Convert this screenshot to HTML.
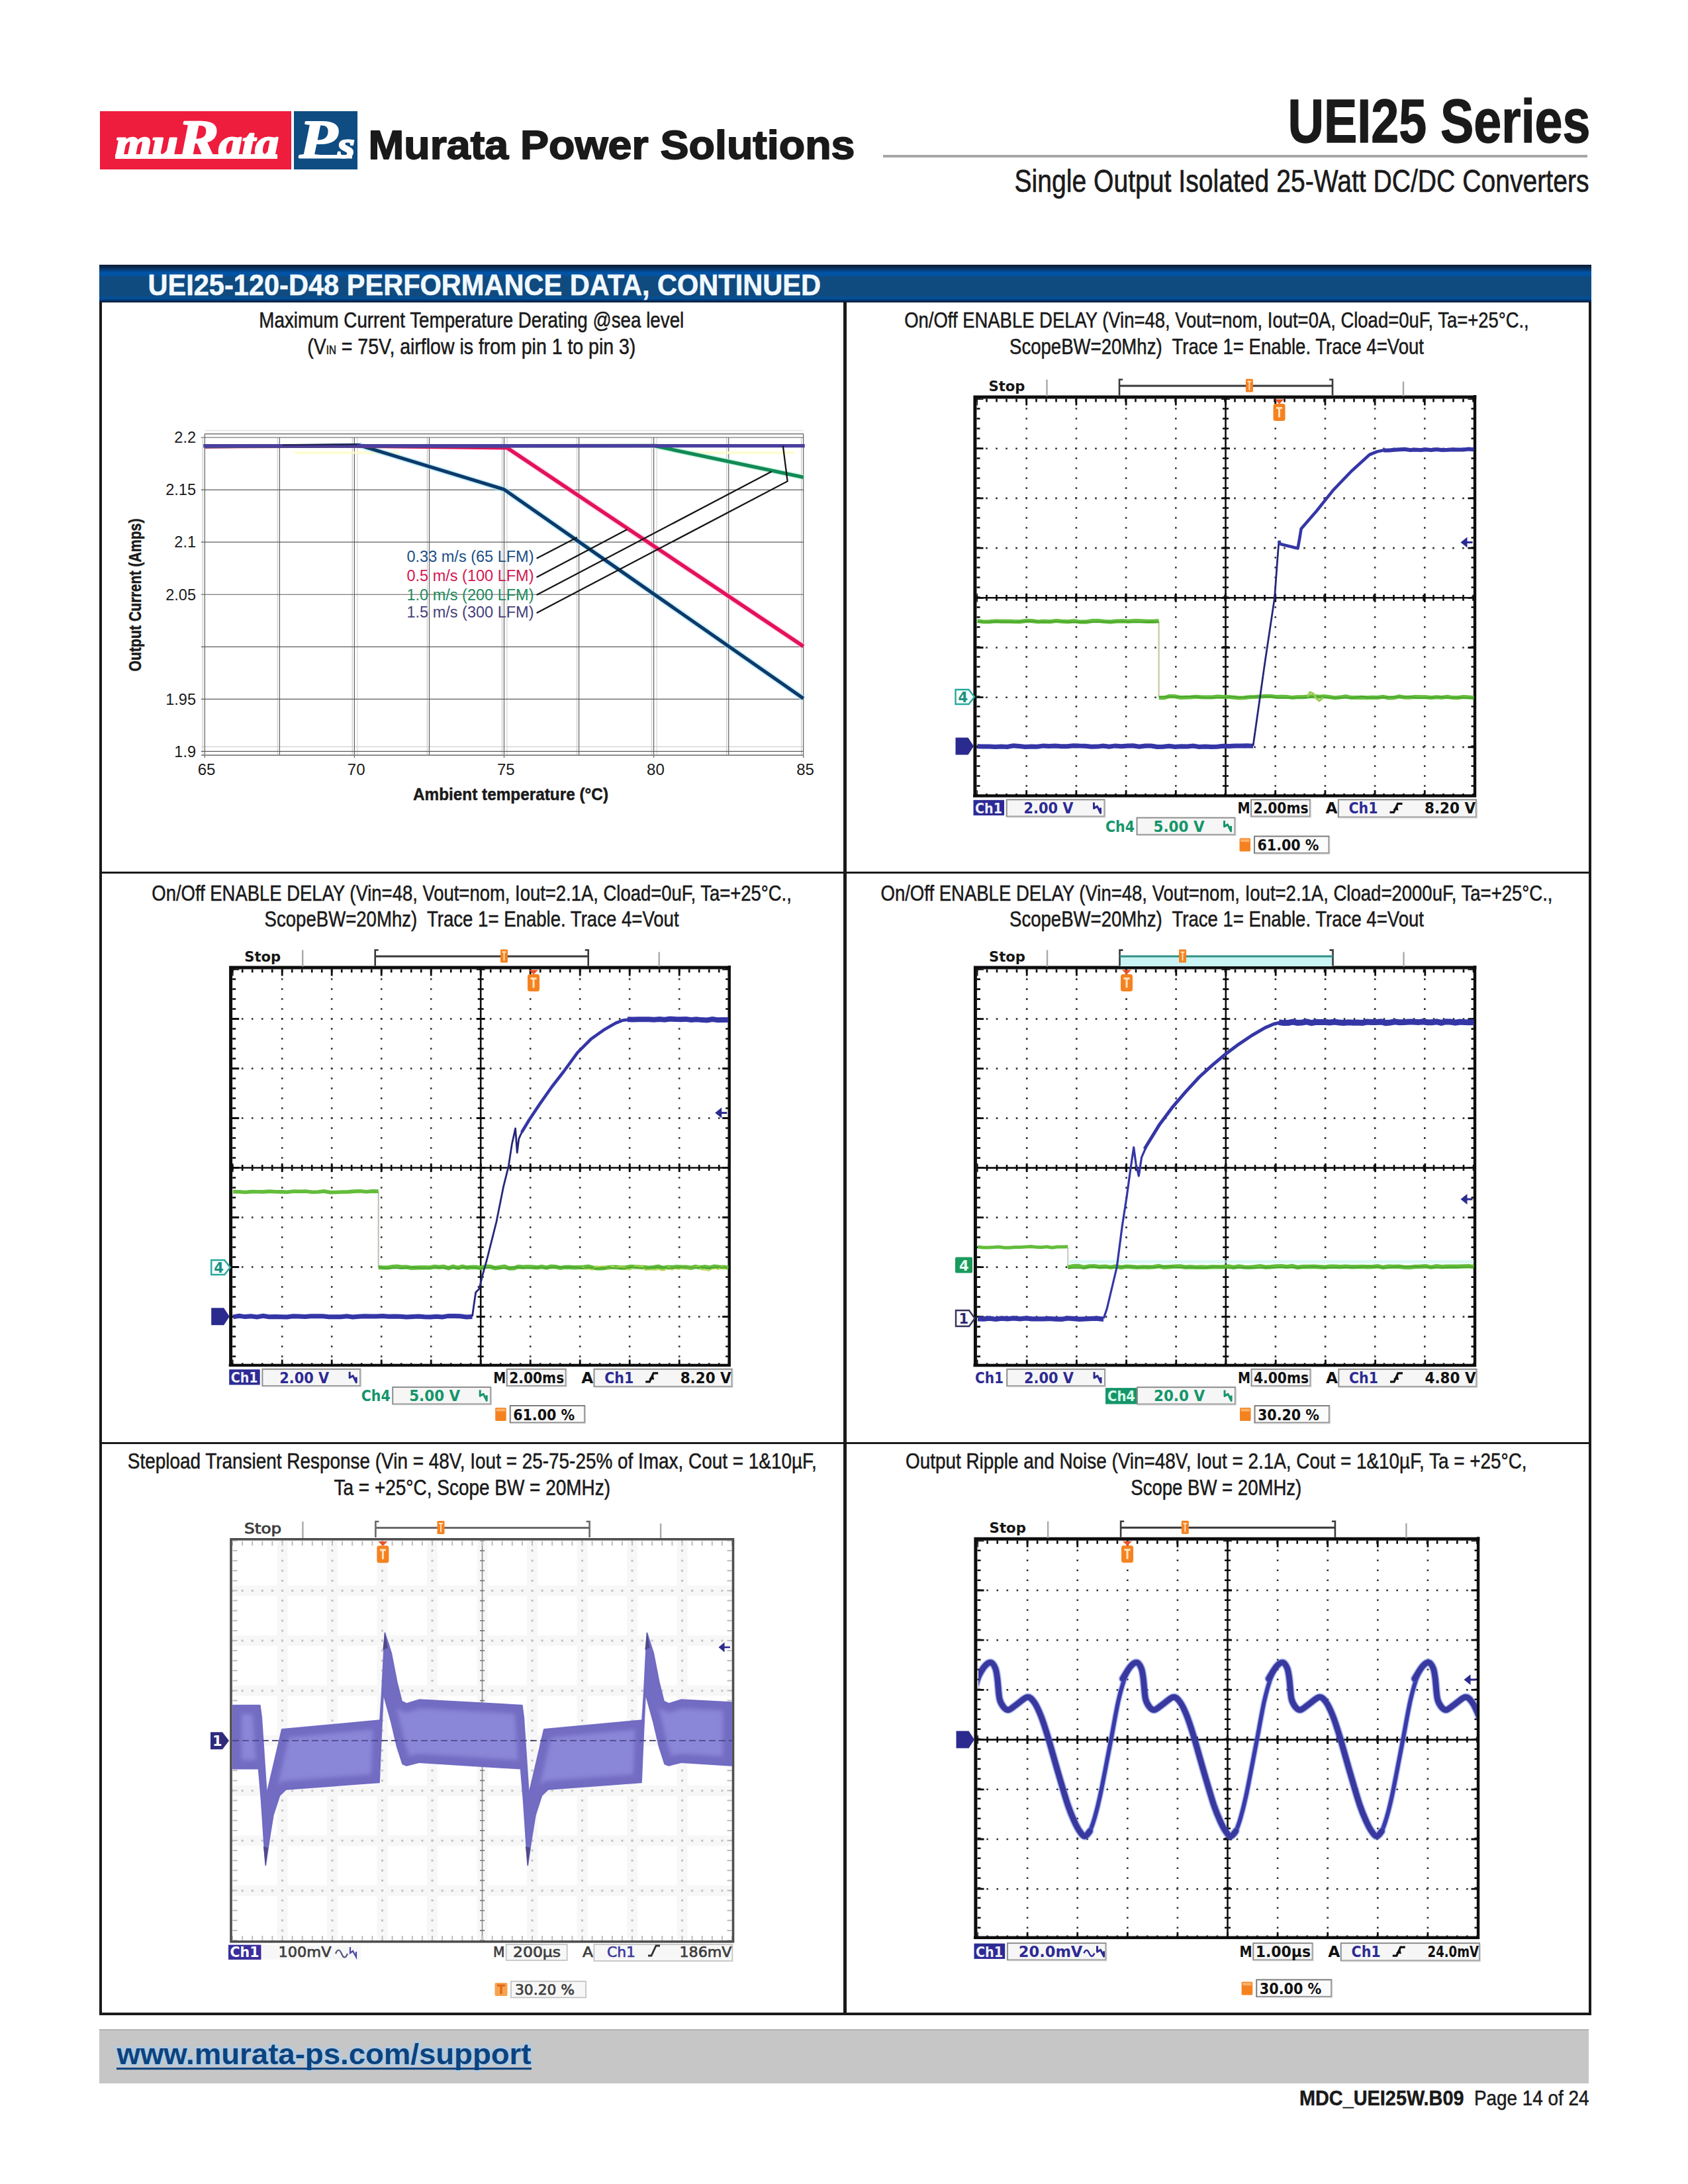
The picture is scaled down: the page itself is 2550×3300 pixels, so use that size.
<!DOCTYPE html>
<html lang="en"><head><meta charset="utf-8">
<title>UEI25 Series - Single Output Isolated 25-Watt DC/DC Converters</title>
<style>
html,body{margin:0;padding:0;background:#fff}
body{width:2550px;height:3300px;position:relative;overflow:hidden;font-family:"Liberation Sans",sans-serif;color:#1a1a1a}
svg{position:absolute;left:0;top:0;overflow:visible}
svg text{white-space:pre}
header{position:absolute;left:0;top:0;width:2550px;height:380px}
.logo-red{position:absolute;left:151px;top:168px;width:289px;height:88px;background:#ee1c3d}
.logo-blue{position:absolute;left:444px;top:168px;width:96px;height:88px;background:#0f4c81}
.rule{position:absolute;left:1334px;top:234px;width:1064px;height:4px;background:#a6a6a6}
.sheet{position:absolute;left:150px;top:400px;width:2254px;height:2645px;box-sizing:border-box;border:4px solid #1a1a1a;border-top:none;background:#fff}
.banner{position:absolute;left:0;top:0;width:2254px;height:57px;margin-left:-4px;background:linear-gradient(to bottom,#0b1c33 0px,#0a2d58 5px,#0054a6 12px,#0054a6 15px,#104b80 19px,#104b80 47px,#00519f 51px,#062c57 55px,#07182d 57px)}
.cell{position:absolute;margin:0;padding:0}
.vline{position:absolute;left:1124px;top:57px;width:5px;height:2585px;margin-left:-4px;background:#1a1a1a}
.hline{position:absolute;left:-4px;width:2254px;height:3px;background:#1a1a1a}
footer{position:absolute;left:0;top:3040px;width:2550px;height:260px}
.fbar{position:absolute;left:150px;top:26px;width:2250px;height:82px;background:#c6c6c6;border-top:2px solid #b4b4b4;box-sizing:border-box}
</style></head>
<body>
<header>
<div class="logo-red"></div><div class="logo-blue"></div><div class="rule"></div>
<svg width="2550" height="380" viewBox="0 0 2550 380">
<text x="174" y="238" font-family='"Liberation Serif", serif' font-weight="bold" font-style="italic" fill="#fff" stroke="#fff" stroke-width="2.6" stroke-linejoin="round" textLength="247" lengthAdjust="spacingAndGlyphs" font-size="63">mu<tspan font-size="82">R</tspan>ata</text>
<rect x="174" y="233" width="245" height="7" fill="#fff"/>
<text x="452" y="238" font-family='"Liberation Serif", serif' font-weight="bold" font-style="italic" fill="#fff" stroke="#fff" stroke-width="2.2" stroke-linejoin="round" textLength="84" lengthAdjust="spacingAndGlyphs" font-size="82">P<tspan font-size="58">s</tspan></text>
<rect x="452" y="234" width="80" height="5.5" fill="#fff"/>
<text x="556.5" y="239.6" font-family='"Liberation Sans", sans-serif' font-size="61.5" font-weight="bold" textLength="735" lengthAdjust="spacingAndGlyphs" stroke="#1a1a1a" stroke-width="1.8" stroke-linejoin="round" fill="#1a1a1a">Murata Power Solutions</text>
<text x="2402.5" y="215.4" font-family='"Liberation Sans", sans-serif' font-size="92" font-weight="bold" text-anchor="end" textLength="457" lengthAdjust="spacingAndGlyphs" stroke="#1a1a1a" stroke-width="1.4" stroke-linejoin="round" fill="#1a1a1a">UEI25 Series</text>
<text x="2400.5" y="289.7" font-family='"Liberation Sans", sans-serif' font-size="49" text-anchor="end" textLength="868" lengthAdjust="spacingAndGlyphs" stroke="#1a1a1a" stroke-width="0.7" stroke-linejoin="round" fill="#1a1a1a">Single Output Isolated 25-Watt DC/DC Converters</text>
</svg></header>
<main class="sheet">
<div class="banner"></div>
<div class="vline"></div>
<div class="hline" style="top:917px"></div>
<div class="hline" style="top:1779px"></div>
<svg width="2246" height="2640" viewBox="154 400 2246 2640">
<text x="223.5" y="445.8" font-family='"Liberation Sans", sans-serif' font-size="43.5" font-weight="bold" textLength="1016.5" lengthAdjust="spacingAndGlyphs" stroke="#f1f9ff" stroke-width="0.6" stroke-linejoin="round" fill="#f1f9ff">UEI25-120-D48 PERFORMANCE DATA, CONTINUED</text>
<g id="captions"><text x="712.3" y="494.5" font-family='"Liberation Sans", sans-serif' font-size="33" text-anchor="middle" textLength="642" lengthAdjust="spacingAndGlyphs" stroke="#1a1a1a" stroke-width="0.55" stroke-linejoin="round" fill="#1a1a1a">Maximum Current Temperature Derating @sea level</text>
<text x="712.3" y="534.5" font-family='"Liberation Sans", sans-serif' font-size="33" text-anchor="middle" textLength="496" lengthAdjust="spacingAndGlyphs" stroke="#1a1a1a" stroke-width="0.55" stroke-linejoin="round" fill="#1a1a1a">(V<tspan font-size="17.5">IN</tspan> = 75V, airflow is from pin 1 to pin 3)</text>
<text x="1838" y="494.5" font-family='"Liberation Sans", sans-serif' font-size="33" text-anchor="middle" textLength="943.5" lengthAdjust="spacingAndGlyphs" stroke="#1a1a1a" stroke-width="0.55" stroke-linejoin="round" fill="#1a1a1a">On/Off ENABLE DELAY (Vin=48, Vout=nom, Iout=0A, Cload=0uF, Ta=+25°C.,</text>
<text x="1838" y="534.5" font-family='"Liberation Sans", sans-serif' font-size="33" text-anchor="middle" textLength="626" lengthAdjust="spacingAndGlyphs" stroke="#1a1a1a" stroke-width="0.55" stroke-linejoin="round" fill="#1a1a1a">ScopeBW=20Mhz)  Trace 1= Enable. Trace 4=Vout</text>
<text x="712.6" y="1360.5" font-family='"Liberation Sans", sans-serif' font-size="33" text-anchor="middle" textLength="966.5" lengthAdjust="spacingAndGlyphs" stroke="#1a1a1a" stroke-width="0.55" stroke-linejoin="round" fill="#1a1a1a">On/Off ENABLE DELAY (Vin=48, Vout=nom, Iout=2.1A, Cload=0uF, Ta=+25°C.,</text>
<text x="712.6" y="1400" font-family='"Liberation Sans", sans-serif' font-size="33" text-anchor="middle" textLength="626" lengthAdjust="spacingAndGlyphs" stroke="#1a1a1a" stroke-width="0.55" stroke-linejoin="round" fill="#1a1a1a">ScopeBW=20Mhz)  Trace 1= Enable. Trace 4=Vout</text>
<text x="1838" y="1360.5" font-family='"Liberation Sans", sans-serif' font-size="33" text-anchor="middle" textLength="1015" lengthAdjust="spacingAndGlyphs" stroke="#1a1a1a" stroke-width="0.55" stroke-linejoin="round" fill="#1a1a1a">On/Off ENABLE DELAY (Vin=48, Vout=nom, Iout=2.1A, Cload=2000uF, Ta=+25°C.,</text>
<text x="1838" y="1400" font-family='"Liberation Sans", sans-serif' font-size="33" text-anchor="middle" textLength="626" lengthAdjust="spacingAndGlyphs" stroke="#1a1a1a" stroke-width="0.55" stroke-linejoin="round" fill="#1a1a1a">ScopeBW=20Mhz)  Trace 1= Enable. Trace 4=Vout</text>
<text x="713.3" y="2219.3" font-family='"Liberation Sans", sans-serif' font-size="33" text-anchor="middle" textLength="1041" lengthAdjust="spacingAndGlyphs" stroke="#1a1a1a" stroke-width="0.55" stroke-linejoin="round" fill="#1a1a1a">Stepload Transient Response (Vin = 48V, Iout = 25-75-25% of Imax, Cout = 1&amp;10µF,</text>
<text x="713.3" y="2259" font-family='"Liberation Sans", sans-serif' font-size="33" text-anchor="middle" textLength="417.5" lengthAdjust="spacingAndGlyphs" stroke="#1a1a1a" stroke-width="0.55" stroke-linejoin="round" fill="#1a1a1a">Ta = +25°C, Scope BW = 20MHz)</text>
<text x="1837.3" y="2219.3" font-family='"Liberation Sans", sans-serif' font-size="33" text-anchor="middle" textLength="938.5" lengthAdjust="spacingAndGlyphs" stroke="#1a1a1a" stroke-width="0.55" stroke-linejoin="round" fill="#1a1a1a">Output Ripple and Noise (Vin=48V, Iout = 2.1A, Cout = 1&amp;10µF, Ta = +25°C,</text>
<text x="1837.3" y="2259" font-family='"Liberation Sans", sans-serif' font-size="33" text-anchor="middle" textLength="258" lengthAdjust="spacingAndGlyphs" stroke="#1a1a1a" stroke-width="0.55" stroke-linejoin="round" fill="#1a1a1a">Scope BW = 20MHz)</text></g>
<g id="derating"><g fill="none"><path d="M306.3 661V1142" stroke="#d4d4d4" stroke-width="1.6"/><path d="M419.4 661V1142" stroke="#d4d4d4" stroke-width="1.6"/><path d="M532.4 661V1142" stroke="#d4d4d4" stroke-width="1.6"/><path d="M539.9 661V1142" stroke="#dcdcdc" stroke-width="1.4"/><path d="M645.5 661V1142" stroke="#d4d4d4" stroke-width="1.6"/><path d="M758.5 661V1142" stroke="#d4d4d4" stroke-width="1.6"/><path d="M766 661V1142" stroke="#dcdcdc" stroke-width="1.4"/><path d="M871.6 661V1142" stroke="#d4d4d4" stroke-width="1.6"/><path d="M984.6 661V1142" stroke="#d4d4d4" stroke-width="1.6"/><path d="M992.1 661V1142" stroke="#dcdcdc" stroke-width="1.4"/><path d="M1097.7 661V1142" stroke="#d4d4d4" stroke-width="1.6"/><path d="M1210.7 661V1142" stroke="#d4d4d4" stroke-width="1.6"/><path d="M304.3 1128.4H1213.7" stroke="#d0d0d0" stroke-width="1.4"/><path d="M309.3 650.5H1213.7" stroke="#e4e4e4" stroke-width="1.4"/></g>
<path d="M309.3 655.6V1145M422.4 661V1142M535.4 661V1145M648.5 661V1142M761.5 661V1145M874.6 661V1142M987.6 661V1145M1100.7 661V1142M1213.7 655.6V1145M303.8 661H1213.7M303.8 740.1H1213.7M303.8 819.1H1213.7M303.8 898.2H1213.7M303.8 977.3H1213.7M303.8 1056.3H1213.7M303.8 1135.4H1213.7M309.3 655.6H1213.7" fill="none" stroke="#5c5c5c" stroke-width="1.15"/>
<path d="M304.3 1141.2H1213.7" fill="none" stroke="#7d7d7d" stroke-width="1.8"/>
<rect x="445" y="682" width="158.3" height="4" fill="#fdfdc8" opacity=".8"/>
<rect x="1032.8" y="682" width="167.3" height="4" fill="#fdfdc8" opacity=".8"/>
<polyline points="542.2,672.6 761.5,739.6 1213.7,1055.4" fill="none" stroke="#9fe4f5" stroke-width="9" stroke-linejoin="round" opacity=".55"/>
<polyline points="766,676.6 1213.7,976.6" fill="none" stroke="#ffc2dc" stroke-width="9" stroke-linejoin="round" opacity=".55"/>
<polyline points="987.6,673.4 1213.7,721.2" fill="none" stroke="#b5f0d6" stroke-width="9" stroke-linejoin="round" opacity=".55"/>
<polyline points="309.3,675 542.2,672.6 761.5,739.6 1213.7,1055.4" fill="none" stroke="#0c3a6b" stroke-width="5.2" stroke-linejoin="round"/>
<polyline points="309.3,674.6 535.4,674 766,676.6 1213.7,976.6" fill="none" stroke="#e3125c" stroke-width="5.6" stroke-linejoin="round"/>
<polyline points="309.3,674 987.6,673.4 1213.7,721.2" fill="none" stroke="#118a56" stroke-width="5.4" stroke-linejoin="round"/>
<polyline points="307.3,673.8 1215.7,673.6" fill="none" stroke="#4a3e9e" stroke-width="5.4" stroke-linejoin="round"/>
<path d="M426.9 672.6L539.9 671.6" stroke="#1b1b3a" stroke-width="2" fill="none" opacity=".8"/>
<polyline points="810.6,843.7 871.8,812.1" fill="none" stroke="#151515" stroke-width="2.3" stroke-linejoin="miter"/>
<polyline points="810.6,872.2 947.4,800" fill="none" stroke="#151515" stroke-width="2.3" stroke-linejoin="miter"/>
<polyline points="810.6,899 1165.6,712.5" fill="none" stroke="#151515" stroke-width="2.3" stroke-linejoin="miter"/>
<polyline points="810.6,926.2 1189.6,727.2 1182.8,673.6" fill="none" stroke="#151515" stroke-width="2.3" stroke-linejoin="miter"/>
<text x="806.5" y="848.9" font-family='"Liberation Sans", sans-serif' font-size="23.5" text-anchor="end" fill="#1b4f85">0.33 m/s (65 LFM)</text>
<text x="806.5" y="878.1" font-family='"Liberation Sans", sans-serif' font-size="23.5" text-anchor="end" fill="#d3164f">0.5 m/s (100 LFM)</text>
<text x="806.5" y="906.6" font-family='"Liberation Sans", sans-serif' font-size="23.5" text-anchor="end" fill="#1e8a5c">1.0 m/s (200 LFM)</text>
<text x="806.5" y="933.1" font-family='"Liberation Sans", sans-serif' font-size="23.5" text-anchor="end" fill="#45407a">1.5 m/s (300 LFM)</text>
<text x="296" y="669.3" font-family='"Liberation Sans", sans-serif' font-size="23.5" text-anchor="end" fill="#1a1a1a">2.2</text>
<text x="296" y="748.367" font-family='"Liberation Sans", sans-serif' font-size="23.5" text-anchor="end" fill="#1a1a1a">2.15</text>
<text x="296" y="827.433" font-family='"Liberation Sans", sans-serif' font-size="23.5" text-anchor="end" fill="#1a1a1a">2.1</text>
<text x="296" y="906.5" font-family='"Liberation Sans", sans-serif' font-size="23.5" text-anchor="end" fill="#1a1a1a">2.05</text>
<text x="296" y="1064.63" font-family='"Liberation Sans", sans-serif' font-size="23.5" text-anchor="end" fill="#1a1a1a">1.95</text>
<text x="296" y="1143.7" font-family='"Liberation Sans", sans-serif' font-size="23.5" text-anchor="end" fill="#1a1a1a">1.9</text>
<text x="312.1" y="1171" font-family='"Liberation Sans", sans-serif' font-size="24" text-anchor="middle" fill="#1a1a1a">65</text>
<text x="538.2" y="1171" font-family='"Liberation Sans", sans-serif' font-size="24" text-anchor="middle" fill="#1a1a1a">70</text>
<text x="764.3" y="1171" font-family='"Liberation Sans", sans-serif' font-size="24" text-anchor="middle" fill="#1a1a1a">75</text>
<text x="990.4" y="1171" font-family='"Liberation Sans", sans-serif' font-size="24" text-anchor="middle" fill="#1a1a1a">80</text>
<text x="1216.5" y="1171" font-family='"Liberation Sans", sans-serif' font-size="24" text-anchor="middle" fill="#1a1a1a">85</text>
<text x="771.5" y="1209" font-family='"Liberation Sans", sans-serif' font-size="26" font-weight="bold" text-anchor="middle" textLength="295" lengthAdjust="spacingAndGlyphs" stroke="#1a1a1a" stroke-width="0.5" stroke-linejoin="round" fill="#1a1a1a">Ambient temperature (°C)</text>
<g transform="translate(212.5 899) rotate(-90)"><text x="0" y="0" font-family='"Liberation Sans", sans-serif' font-size="26" font-weight="bold" text-anchor="middle" textLength="231" lengthAdjust="spacingAndGlyphs" stroke="#1a1a1a" stroke-width="0.5" stroke-linejoin="round" fill="#1a1a1a">Output Current (Amps)</text></g></g>
<g id="scope-1"><path d="M1550.7 602.5V1204.1M1625.9 602.5V1204.1M1701.1 602.5V1204.1M1776.3 602.5V1204.1M1926.7 602.5V1204.1M2001.9 602.5V1204.1M2077.1 602.5V1204.1M2152.3 602.5V1204.1" fill="none" stroke="#2e2e2e" stroke-width="2.6" stroke-dasharray="2.6 12.4" stroke-dashoffset="1.3"/>
<path d="M1475.5 677.7H2227.5M1475.5 752.9H2227.5M1475.5 828.1H2227.5M1475.5 978.5H2227.5M1475.5 1053.7H2227.5M1475.5 1128.9H2227.5" fill="none" stroke="#2e2e2e" stroke-width="2.6" stroke-dasharray="2.6 12.4" stroke-dashoffset="1.3"/>
<path d="M1475.5 903.3H2227.5M1851.5 602.5V1204.1" stroke="#0d0d0d" stroke-width="2.6" fill="none"/>
<path d="M1475.5 903.3H2227.5" stroke="#0d0d0d" stroke-width="9" stroke-dasharray="2.6 12.4" stroke-dashoffset="1.3" fill="none"/>
<path d="M1851.5 602.5V1204.1" stroke="#0d0d0d" stroke-width="9" stroke-dasharray="2.6 12.4" stroke-dashoffset="1.3" fill="none"/>
<path d="M1475.5 903.3H2227.5" stroke="#0d0d0d" stroke-width="13" stroke-dasharray="2.8 72.4" stroke-dashoffset="1.4" fill="none"/>
<path d="M1851.5 602.5V1204.1" stroke="#0d0d0d" stroke-width="13" stroke-dasharray="2.8 72.4" stroke-dashoffset="1.4" fill="none"/>
<path d="M1475.5 605H2227.5M1475.5 1201.6H2227.5" stroke="#0d0d0d" stroke-width="5" stroke-dasharray="2.6 12.4" stroke-dashoffset="1.3" fill="none"/>
<path d="M1478 602.5V1204.1M2225 602.5V1204.1" stroke="#0d0d0d" stroke-width="5" stroke-dasharray="2.6 12.4" stroke-dashoffset="1.3" fill="none"/>
<path d="M1475.5 607.5H2227.5M1475.5 1199.1H2227.5" stroke="#0d0d0d" stroke-width="10" stroke-dasharray="2.8 72.4" stroke-dashoffset="1.4" fill="none"/>
<path d="M1480.5 602.5V1204.1M2222.5 602.5V1204.1" stroke="#0d0d0d" stroke-width="10" stroke-dasharray="2.8 72.4" stroke-dashoffset="1.4" fill="none"/>
<path d="M1472.9 1204.3V599.9H2230.3" fill="none" stroke="#0d0d0d" stroke-width="5" stroke-linejoin="miter"/>
<path d="M2228 597V1202.5H1470" fill="none" stroke="#0d0d0d" stroke-width="4.4" stroke-linejoin="miter"/>
<text x="1493.5" y="591" font-family='"DejaVu Sans", "Liberation Sans", sans-serif' font-size="21" font-weight="bold" textLength="55" lengthAdjust="spacingAndGlyphs" fill="#161616">Stop</text>
<path d="M1581.5 573.5V598.5M2120 576.5V598.5" stroke="#a9a9a9" stroke-width="2.4" fill="none"/>
<path d="M1696 573.5H1691V597.5M2008 573.5H2013V597.5" fill="none" stroke="#3a3a3a" stroke-width="2.6"/>
<path d="M1691 583H2013" fill="none" stroke="#3a3a3a" stroke-width="3"/>
<rect x="1881.9" y="572.5" width="11" height="20" rx="1.5" fill="#f58220"/>
<path d="M1884.4 576.5H1890.4M1887.4 576.5V589.5" stroke="#ffe7c9" stroke-width="1.8" fill="none"/>
<path d="M1925.5 603.5H1939.5L1932.5 610.5Z" fill="#e8532a"/>
<rect x="1923.5" y="610" width="18" height="26" rx="3.5" fill="#f58220"/>
<path d="M1928 616.5H1937M1932.5 616.5V630.5" stroke="#ffe3bf" stroke-width="3" fill="none"/>
<path d="M1750.6 939V1053" stroke="#c9c7a0" stroke-width="2.2" fill="none"/>
<polyline points="1476.5,938.2 1485.6,939.5 1494.8,939.4 1503.9,938.5 1513,938.9 1522.2,938.8 1531.3,939.2 1540.5,939.4 1549.6,938.2 1558.7,938.1 1567.9,939.5 1577,938.8 1586.1,939.4 1595.3,938 1604.4,938.8 1613.5,939.3 1622.7,938.4 1631.8,939.7 1641,939.6 1650.1,938.1 1659.2,938 1668.4,939 1677.5,939.7 1686.6,938.7 1695.8,938.4 1704.9,938.8 1714.1,938.1 1723.2,938.4 1732.3,938.8 1741.5,938.9 1750.6,938.4" fill="none" stroke="#63bd3b" stroke-width="6.2"/>
<polyline points="1750.6,1054.3 1758.7,1054.3 1766.7,1052.1 1774.8,1052.2 1782.9,1054 1790.9,1053.8 1799,1053.6 1807.1,1052.7 1815.1,1053.5 1823.2,1053.5 1831.3,1053.4 1839.3,1052.4 1847.4,1053 1855.5,1052.9 1863.5,1053.7 1871.6,1054.4 1879.7,1054.3 1887.7,1053.3 1895.8,1053.1 1903.9,1052.6 1911.9,1052.1 1920,1052.1 1928.1,1053.1 1936.1,1052.8 1944.2,1052.9 1952.3,1054.1 1960.3,1053.3 1968.4,1053.3 1976.5,1052.6 1984.5,1052.1 1992.6,1052.8 2000.6,1052.3 2008.7,1053.2 2016.8,1054.4 2024.8,1053.6 2032.9,1052.4 2041,1054.1 2049,1053.9 2057.1,1053.8 2065.2,1054.2 2073.2,1053.8 2081.3,1053.9 2089.4,1052.8 2097.4,1054.4 2105.5,1054.3 2113.6,1052.4 2121.6,1053.8 2129.7,1053.7 2137.8,1053.1 2145.8,1053.3 2153.9,1053.2 2162,1054.2 2170,1053.2 2178.1,1054 2186.2,1052.8 2194.2,1054.1 2202.3,1054.2 2210.4,1053.1 2218.4,1053.4 2226.5,1054.2" fill="none" stroke="#63bd3b" stroke-width="6"/>
<polyline points="1476.5,939.2 1490.9,939.7 1505.4,939.4 1519.8,939.8 1534.2,939.8 1548.6,938.9 1563.1,938.8 1577.5,940.1 1591.9,939.2 1606.3,939.2 1620.8,940.4 1635.2,939.6 1649.6,940.1 1664,939.6 1678.5,939.8 1692.9,939 1707.3,939.8 1721.7,940.2 1736.2,939.6 1750.6,940" fill="none" stroke="#3f9a2c" stroke-width="1.6" opacity=".8"/>
<polyline points="1750.6,1052.9 1762.8,1052.5 1775,1053.3 1787.2,1052.6 1799.4,1052.4 1811.6,1053.3 1823.8,1054.8 1836,1054.4 1848.2,1054.3 1860.4,1052.8 1872.6,1053.7 1884.8,1053 1897,1052.7 1909.2,1052.5 1921.4,1052.8 1933.6,1054.8 1945.8,1054.5 1958,1054.5 1970.2,1054.4 1982.4,1052.7 1994.7,1053.1 2006.9,1054 2019.1,1054.2 2031.3,1054.6 2043.5,1054.7 2055.7,1052.4 2067.9,1053.9 2080.1,1054.1 2092.3,1053.6 2104.5,1052.7 2116.7,1053.5 2128.9,1052.5 2141.1,1054.8 2153.3,1054.6 2165.5,1053.7 2177.7,1053 2189.9,1054.7 2202.1,1053.8 2214.3,1054.7 2226.5,1054.6" fill="none" stroke="#3f9a2c" stroke-width="1.6" opacity=".8"/>
<path d="M1975 1053l4-7 5 2 4 7 5 4 6-5" fill="none" stroke="#9ccc55" stroke-width="3"/>
<polyline points="1476.5,1127.8 1485.6,1128 1494.6,1128.1 1503.7,1128.4 1512.7,1128 1521.8,1128.4 1530.8,1126.8 1539.9,1127.5 1548.9,1128.4 1558,1127.9 1567,1128.3 1576.1,1126.9 1585.2,1127.5 1594.2,1127.1 1603.3,1127.7 1612.3,1127.7 1621.4,1126.7 1630.4,1127.1 1639.5,1127.2 1648.5,1128.3 1657.6,1128.1 1666.6,1127 1675.7,1128.1 1684.8,1126.9 1693.8,1127.8 1702.9,1126.9 1711.9,1126.7 1721,1128.3 1730,1127.1 1739.1,1127.1 1748.1,1128.5 1757.2,1128.3 1766.2,1127.2 1775.3,1128.4 1784.3,1127.7 1793.4,1127.9 1802.5,1127.1 1811.5,1128.4 1820.6,1127.9 1829.6,1128.4 1838.7,1128.3 1847.7,1127.2 1856.8,1127.4 1865.8,1127 1874.9,1127 1883.9,1126.8 1893,1127.2" fill="none" stroke="#3536a6" stroke-width="7"/>
<polyline points="1893,1127 1896,1106 1911,1000 1925.5,903.4 1929.5,849 1932,817" fill="none" stroke="#26277a" stroke-width="2.8" stroke-linejoin="round"/>
<polyline points="1932,817 1934,822 1946,825 1960.6,828.4 1963.5,812 1965.6,799 1989.2,771.7 2014,740.6 2041.5,712 2068.9,687 2080,682.5 2090,680.3" fill="none" stroke="#3536a6" stroke-width="4.6" stroke-linejoin="round"/>
<polyline points="2090,680.4 2098,680.4 2106.1,679.7 2114.1,679.2 2122.1,678.7 2130.1,679.9 2138.2,679.5 2146.2,680.1 2154.2,679.3 2162.3,680 2170.3,679 2178.3,680 2186.4,679.8 2194.4,679.2 2202.4,679.4 2210.4,679.6 2218.5,678.6 2226.5,679.3" fill="none" stroke="#3536a6" stroke-width="6"/>
<path d="M1443.5 1042H1463.5L1472 1053L1463.5 1064H1443.5Z" fill="#f3fffd" stroke="#2aa79b" stroke-width="2.4"/><text x="1447.5" y="1061" font-family='"DejaVu Sans", "Liberation Sans", sans-serif' font-size="21" font-weight="bold" fill="#1e8f7f">4</text>
<path d="M1443.5 1114.5H1462.5L1471 1127.5L1462.5 1140.5H1443.5Z" fill="#2b2a8f"/>
<path d="M2206.5 819.5L2216.5 811.5V827.5Z" fill="#2b2a8f"/><path d="M2215.5 819.5H2224.5" stroke="#2b2a8f" stroke-width="3" fill="none"/>
<rect x="1470.5" y="1208.8" width="46.5" height="23.3" fill="#2d2b93"/>
<text x="1473" y="1228.9" font-family='"DejaVu Sans", "Liberation Sans", sans-serif' font-size="22" font-weight="bold" textLength="41" lengthAdjust="spacingAndGlyphs" fill="#f0f0ff">Ch1</text>
<rect x="1520.7" y="1208.3" width="147.8" height="25.3" fill="#f6f6f6" stroke="#8e8e8e" stroke-width="2"/><path d="M1521.7 1234.6H1669.5V1209.3" fill="none" stroke="#c9c9c9" stroke-width="1.6"/>
<text x="1546.5" y="1229.4" font-family='"DejaVu Sans", "Liberation Sans", sans-serif' font-size="23.5" font-weight="bold" textLength="75" lengthAdjust="spacingAndGlyphs" fill="#2d2b93">2.00 V</text>
<path d="M1652.5 1212.4V1221.4L1657.5 1218.4L1662.5 1228.4V1220.4" fill="none" stroke="#2d2b93" stroke-width="3" stroke-linejoin="round"/>
<text x="1869.5" y="1229.4" font-family='"DejaVu Sans", "Liberation Sans", sans-serif' font-size="23.5" font-weight="bold" textLength="19" lengthAdjust="spacingAndGlyphs" fill="#111">M</text>
<rect x="1890" y="1208.3" width="89" height="25.3" fill="#f6f6f6" stroke="#8e8e8e" stroke-width="2"/><path d="M1891 1234.6H1980V1209.3" fill="none" stroke="#c9c9c9" stroke-width="1.6"/>
<text x="1893.5" y="1229.4" font-family='"DejaVu Sans", "Liberation Sans", sans-serif' font-size="23.5" font-weight="bold" textLength="83" lengthAdjust="spacingAndGlyphs" fill="#111">2.00ms</text>
<text x="2002.5" y="1229.4" font-family='"DejaVu Sans", "Liberation Sans", sans-serif' font-size="23.5" font-weight="bold" textLength="18" lengthAdjust="spacingAndGlyphs" fill="#111">A</text>
<rect x="2021.8" y="1208.3" width="208.2" height="26.3" fill="#f6f6f6" stroke="#8e8e8e" stroke-width="2"/><path d="M2022.8 1235.6H2231V1209.3" fill="none" stroke="#c9c9c9" stroke-width="1.6"/>
<text x="2037.5" y="1229.4" font-family='"DejaVu Sans", "Liberation Sans", sans-serif' font-size="23.5" font-weight="bold" textLength="44" lengthAdjust="spacingAndGlyphs" fill="#2d2b93">Ch1</text>
<path d="M2099.5 1227.4H2105.5L2111.5 1214.4H2118.5" fill="none" stroke="#111" stroke-width="3.2"/><path d="M2104.5 1223.4L2111 1216.4L2112.5 1224.4Z" fill="#111"/>
<text x="2229" y="1229.4" font-family='"DejaVu Sans", "Liberation Sans", sans-serif' font-size="23.5" font-weight="bold" text-anchor="end" textLength="77" lengthAdjust="spacingAndGlyphs" fill="#111">8.20 V</text>
<text x="1670" y="1256.9" font-family='"DejaVu Sans", "Liberation Sans", sans-serif' font-size="23.5" font-weight="bold" textLength="44" lengthAdjust="spacingAndGlyphs" fill="#15956a">Ch4</text>
<rect x="1717.5" y="1235.6" width="148" height="25.5" fill="#f6f6f6" stroke="#8e8e8e" stroke-width="2"/><path d="M1718.5 1262.1H1866.5V1236.6" fill="none" stroke="#c9c9c9" stroke-width="1.6"/>
<text x="1742.5" y="1256.9" font-family='"DejaVu Sans", "Liberation Sans", sans-serif' font-size="23.5" font-weight="bold" textLength="77" lengthAdjust="spacingAndGlyphs" fill="#15956a">5.00 V</text>
<path d="M1849.5 1239.9V1248.9L1854.5 1245.9L1859.5 1255.9V1247.9" fill="none" stroke="#15956a" stroke-width="3" stroke-linejoin="round"/>
<rect x="1872.5" y="1266.6" width="16.5" height="20" rx="1.5" fill="#f58220"/>
<rect x="1874" y="1268.1" width="13.5" height="4" fill="#fbb36b"/>
<rect x="1895" y="1263.6" width="112.5" height="25.5" fill="#fbfbfb" stroke="#7e7e7e" stroke-width="2"/><path d="M1896 1290.1H2008.5V1264.6" fill="none" stroke="#c9c9c9" stroke-width="1.6"/>
<text x="1899.5" y="1285.1" font-family='"DejaVu Sans", "Liberation Sans", sans-serif' font-size="23.5" font-weight="bold" textLength="93" lengthAdjust="spacingAndGlyphs" fill="#111">61.00 %</text></g>
<g id="scope-2"><path d="M426.2 1464.5V2064.5M501.2 1464.5V2064.5M576.2 1464.5V2064.5M651.2 1464.5V2064.5M801.2 1464.5V2064.5M876.2 1464.5V2064.5M951.2 1464.5V2064.5M1026.2 1464.5V2064.5" fill="none" stroke="#2e2e2e" stroke-width="2.6" stroke-dasharray="2.6 12.4" stroke-dashoffset="1.3"/>
<path d="M351.2 1539.5H1101.2M351.2 1614.5H1101.2M351.2 1689.5H1101.2M351.2 1839.5H1101.2M351.2 1914.5H1101.2M351.2 1989.5H1101.2" fill="none" stroke="#2e2e2e" stroke-width="2.6" stroke-dasharray="2.6 12.4" stroke-dashoffset="1.3"/>
<path d="M351.2 1764.5H1101.2M726.2 1464.5V2064.5" stroke="#0d0d0d" stroke-width="2.6" fill="none"/>
<path d="M351.2 1764.5H1101.2" stroke="#0d0d0d" stroke-width="9" stroke-dasharray="2.6 12.4" stroke-dashoffset="1.3" fill="none"/>
<path d="M726.2 1464.5V2064.5" stroke="#0d0d0d" stroke-width="9" stroke-dasharray="2.6 12.4" stroke-dashoffset="1.3" fill="none"/>
<path d="M351.2 1764.5H1101.2" stroke="#0d0d0d" stroke-width="13" stroke-dasharray="2.8 72.2" stroke-dashoffset="1.4" fill="none"/>
<path d="M726.2 1464.5V2064.5" stroke="#0d0d0d" stroke-width="13" stroke-dasharray="2.8 72.2" stroke-dashoffset="1.4" fill="none"/>
<path d="M351.2 1467H1101.2M351.2 2062H1101.2" stroke="#0d0d0d" stroke-width="5" stroke-dasharray="2.6 12.4" stroke-dashoffset="1.3" fill="none"/>
<path d="M353.7 1464.5V2064.5M1098.7 1464.5V2064.5" stroke="#0d0d0d" stroke-width="5" stroke-dasharray="2.6 12.4" stroke-dashoffset="1.3" fill="none"/>
<path d="M351.2 1469.5H1101.2M351.2 2059.5H1101.2" stroke="#0d0d0d" stroke-width="10" stroke-dasharray="2.8 72.2" stroke-dashoffset="1.4" fill="none"/>
<path d="M356.2 1464.5V2064.5M1096.2 1464.5V2064.5" stroke="#0d0d0d" stroke-width="10" stroke-dasharray="2.8 72.2" stroke-dashoffset="1.4" fill="none"/>
<path d="M348.6 2064.7V1461.9H1104" fill="none" stroke="#0d0d0d" stroke-width="5" stroke-linejoin="miter"/>
<path d="M1101.7 1459V2062.9H345.7" fill="none" stroke="#0d0d0d" stroke-width="4.4" stroke-linejoin="miter"/>
<text x="369.2" y="1453" font-family='"DejaVu Sans", "Liberation Sans", sans-serif' font-size="21" font-weight="bold" textLength="55" lengthAdjust="spacingAndGlyphs" fill="#161616">Stop</text>
<path d="M457.2 1435.5V1460.5M995.7 1438.5V1460.5" stroke="#a9a9a9" stroke-width="2.4" fill="none"/>
<path d="M571.7 1435.5H566.7V1459.5M883.7 1435.5H888.7V1459.5" fill="none" stroke="#3a3a3a" stroke-width="2.6"/>
<path d="M566.7 1445H888.7" fill="none" stroke="#3a3a3a" stroke-width="3"/>
<rect x="756" y="1434.5" width="11" height="20" rx="1.5" fill="#f58220"/>
<path d="M758.5 1438.5H764.5M761.5 1438.5V1451.5" stroke="#ffe7c9" stroke-width="1.8" fill="none"/>
<path d="M799 1465.5H813L806 1472.5Z" fill="#e8532a"/>
<rect x="797" y="1472" width="18" height="26" rx="3.5" fill="#f58220"/>
<path d="M801.5 1478.5H810.5M806 1478.5V1492.5" stroke="#ffe3bf" stroke-width="3" fill="none"/>
<path d="M571.7 1801V1915" stroke="#bfc0b0" stroke-width="2" fill="none"/>
<polyline points="352.2,1800.6 361.3,1800.8 370.5,1801.5 379.6,1800.6 388.8,1800.7 397.9,1800.9 407.1,1800.1 416.2,1800.7 425.4,1800.9 434.5,1801.2 443.7,1800 452.8,1800.3 462,1800 471.1,1801.3 480.2,1801 489.4,1799.9 498.5,1801.6 507.7,1801.5 516.8,1801 526,1800.9 535.1,1800.1 544.3,1799.8 553.4,1800.8 562.6,1799.9 571.7,1800.1" fill="none" stroke="#63bd3b" stroke-width="5.6"/>
<polyline points="571.7,1914.9 578.7,1915.4 585.8,1915.4 592.8,1914.1 599.9,1913.7 606.9,1914.7 614,1914.4 621,1915.8 628.1,1915.5 635.1,1915.3 642.2,1915.2 649.2,1915.4 656.3,1914.1 663.3,1914.8 670.4,1914.1 677.4,1916.1 684.4,1913.9 691.5,1915.8 698.5,1913.9 705.6,1915.5 712.6,1914.6 719.7,1914.8 726.7,1915.9 733.8,1913.7 740.8,1913.9 747.9,1916.1 754.9,1915 762,1913.9 769,1916.3 776.1,1916.2 783.1,1914 790.1,1914.8 797.2,1914.1 804.2,1914.5 811.3,1915.3 818.3,1914.1 825.4,1915.5 832.4,1913.8 839.5,1914.1 846.5,1915.8 853.6,1914.7 860.6,1914.8 867.7,1915.2 874.7,1914.9 881.8,1914.7 888.8,1913.8 895.8,1915.6 902.9,1916.2 909.9,1916.2 917,1915.4 924,1914.6 931.1,1914.6 938.1,1915.5 945.2,1915.5 952.2,1914 959.3,1914.3 966.3,1914.6 973.4,1915 980.4,1915.8 987.5,1915 994.5,1913.8 1001.5,1915.8 1008.6,1914.8 1015.6,1915 1022.7,1914.3 1029.7,1914.8 1036.8,1914.7 1043.8,1915.7 1050.9,1914 1057.9,1915.1 1065,1914.2 1072,1915.5 1079.1,1913.8 1086.1,1914.4 1093.2,1914.6 1100.2,1915.4" fill="none" stroke="#63bd3b" stroke-width="6.4"/>
<polyline points="880,1914 885,1917.6 890,1917.5 895,1918.9 900,1913.4 905,1913.7 910,1913 915,1913.7 920,1918 925,1912.9 930,1916.3 935,1913.6 940.1,1914.3 945.1,1915.4 950.1,1918.8 955.1,1916.9 960.1,1911.9 965.1,1914.1 970.1,1913 975.1,1919.1 980.1,1918.6 985.1,1918.6 990.1,1918.7 995.1,1918.1 1000.1,1919.8 1005.1,1918.5 1010.1,1914 1015.1,1918.9 1020.1,1915.9 1025.1,1918.1 1030.1,1916.5 1035.1,1915.4 1040.1,1914.9 1045.2,1915.4 1050.2,1914.4 1055.2,1912.8 1060.2,1918.7 1065.2,1918.5 1070.2,1920.1 1075.2,1917.6 1080.2,1916.5 1085.2,1918.1 1090.2,1912.9 1095.2,1917.5 1100.2,1915.5" fill="none" stroke="#b9d84a" stroke-width="2" opacity=".85"/>
<polyline points="571.7,1914.5 582.7,1916.2 593.7,1916 604.7,1916.8 615.7,1915 626.8,1914.9 637.8,1916.3 648.8,1916 659.8,1915 670.8,1916.1 681.8,1915.3 692.8,1916.4 703.8,1914.5 714.8,1914.8 725.8,1916.7 736.9,1915.2 747.9,1914.9 758.9,1916.5 769.9,1916 780.9,1914.6 791.9,1915.7 802.9,1916.1 813.9,1914.7 824.9,1916 836,1914.5 847,1915.1 858,1914.4 869,1914.8 880,1916.9 891,1915.3 902,1917 913,1915.4 924,1915.9 935,1916.6 946.1,1916.1 957.1,1914.5 968.1,1915.8 979.1,1916 990.1,1914.7 1001.1,1914.5 1012.1,1916.6 1023.1,1915.6 1034.1,1914.7 1045.1,1915.5 1056.2,1914.8 1067.2,1916.4 1078.2,1915.6 1089.2,1914.5 1100.2,1916.5" fill="none" stroke="#3f9a2c" stroke-width="1.6" opacity=".8"/>
<polyline points="352.2,1989.9 361.2,1988.4 370.3,1989.6 379.3,1988.7 388.3,1990 397.4,1988.4 406.4,1989.8 415.4,1989.5 424.5,1989.8 433.5,1990 442.5,1988.8 451.6,1988.9 460.6,1989.5 469.6,1988.8 478.7,1988.8 487.7,1988.8 496.7,1989.8 505.8,1989.8 514.8,1989.7 523.8,1988.8 532.9,1989.9 541.9,1989.2 550.9,1988.8 559.9,1989.1 569,1989.1 578,1988.5 587,1989.3 596.1,1989 605.1,1989.3 614.1,1989.9 623.2,1989.4 632.2,1989 641.2,1989.8 650.3,1990 659.3,1989.2 668.3,1989.9 677.4,1988.4 686.4,1988.6 695.4,1988.7 704.5,1989.9 713.5,1989.5" fill="none" stroke="#3536a6" stroke-width="7"/>
<polyline points="713.5,1989 716,1971 718.7,1952.7 723.9,1947.5 729,1926.6 735.6,1903 750,1845.8 760.4,1793.7 768.2,1762.4 773.4,1728.5 778.6,1705 781.2,1741.5 783.8,1720.7 790,1707" fill="none" stroke="#26277a" stroke-width="2.8" stroke-linejoin="round"/>
<polyline points="788,1711 799.5,1692 815.1,1668.6 833.4,1642.5 851.6,1619 872.5,1590.3 893.3,1569.5 911.6,1556.5 929.8,1546 940.3,1541.8 950,1540.6" fill="none" stroke="#3536a6" stroke-width="4.6" stroke-linejoin="round"/>
<polyline points="948,1540.2 956,1540.4 964,1540.3 972,1540.3 980,1540.3 988.1,1540.7 996.1,1540 1004.1,1540.7 1012.1,1539.6 1020.1,1540.1 1028.1,1540.2 1036.1,1539.9 1044.1,1541 1052.1,1540.2 1060.1,1541.1 1068.2,1541.4 1076.2,1540.1 1084.2,1541.3 1092.2,1541.1 1100.2,1540.9" fill="none" stroke="#3536a6" stroke-width="8"/>
<path d="M319.2 1904H339.2L347.7 1915L339.2 1926H319.2Z" fill="#f3fffd" stroke="#2aa79b" stroke-width="2.4"/><text x="323.2" y="1923" font-family='"DejaVu Sans", "Liberation Sans", sans-serif' font-size="21" font-weight="bold" fill="#1e8f7f">4</text>
<path d="M319.2 1976.2H338.2L346.7 1989.2L338.2 2002.2H319.2Z" fill="#2b2a8f"/>
<path d="M1080.2 1681.6L1090.2 1673.6V1689.6Z" fill="#2b2a8f"/><path d="M1089.2 1681.6H1098.2" stroke="#2b2a8f" stroke-width="3" fill="none"/>
<rect x="346.2" y="2069.2" width="46.5" height="23.3" fill="#2d2b93"/>
<text x="348.7" y="2089.3" font-family='"DejaVu Sans", "Liberation Sans", sans-serif' font-size="22" font-weight="bold" textLength="41" lengthAdjust="spacingAndGlyphs" fill="#f0f0ff">Ch1</text>
<rect x="396.4" y="2068.7" width="147.8" height="25.3" fill="#f6f6f6" stroke="#8e8e8e" stroke-width="2"/><path d="M397.4 2095H545.2V2069.7" fill="none" stroke="#c9c9c9" stroke-width="1.6"/>
<text x="422.2" y="2089.8" font-family='"DejaVu Sans", "Liberation Sans", sans-serif' font-size="23.5" font-weight="bold" textLength="75" lengthAdjust="spacingAndGlyphs" fill="#2d2b93">2.00 V</text>
<path d="M528.2 2072.8V2081.8L533.2 2078.8L538.2 2088.8V2080.8" fill="none" stroke="#2d2b93" stroke-width="3" stroke-linejoin="round"/>
<text x="745.2" y="2089.8" font-family='"DejaVu Sans", "Liberation Sans", sans-serif' font-size="23.5" font-weight="bold" textLength="19" lengthAdjust="spacingAndGlyphs" fill="#111">M</text>
<rect x="765.7" y="2068.7" width="89" height="25.3" fill="#f6f6f6" stroke="#8e8e8e" stroke-width="2"/><path d="M766.7 2095H855.7V2069.7" fill="none" stroke="#c9c9c9" stroke-width="1.6"/>
<text x="769.2" y="2089.8" font-family='"DejaVu Sans", "Liberation Sans", sans-serif' font-size="23.5" font-weight="bold" textLength="83" lengthAdjust="spacingAndGlyphs" fill="#111">2.00ms</text>
<text x="878.2" y="2089.8" font-family='"DejaVu Sans", "Liberation Sans", sans-serif' font-size="23.5" font-weight="bold" textLength="18" lengthAdjust="spacingAndGlyphs" fill="#111">A</text>
<rect x="897.5" y="2068.7" width="208.2" height="26.3" fill="#f6f6f6" stroke="#8e8e8e" stroke-width="2"/><path d="M898.5 2096H1106.7V2069.7" fill="none" stroke="#c9c9c9" stroke-width="1.6"/>
<text x="913.2" y="2089.8" font-family='"DejaVu Sans", "Liberation Sans", sans-serif' font-size="23.5" font-weight="bold" textLength="44" lengthAdjust="spacingAndGlyphs" fill="#2d2b93">Ch1</text>
<path d="M975.2 2087.8H981.2L987.2 2074.8H994.2" fill="none" stroke="#111" stroke-width="3.2"/><path d="M980.2 2083.8L986.7 2076.8L988.2 2084.8Z" fill="#111"/>
<text x="1104.7" y="2089.8" font-family='"DejaVu Sans", "Liberation Sans", sans-serif' font-size="23.5" font-weight="bold" text-anchor="end" textLength="77" lengthAdjust="spacingAndGlyphs" fill="#111">8.20 V</text>
<text x="545.7" y="2117.3" font-family='"DejaVu Sans", "Liberation Sans", sans-serif' font-size="23.5" font-weight="bold" textLength="44" lengthAdjust="spacingAndGlyphs" fill="#15956a">Ch4</text>
<rect x="593.2" y="2096" width="148" height="25.5" fill="#f6f6f6" stroke="#8e8e8e" stroke-width="2"/><path d="M594.2 2122.5H742.2V2097" fill="none" stroke="#c9c9c9" stroke-width="1.6"/>
<text x="618.2" y="2117.3" font-family='"DejaVu Sans", "Liberation Sans", sans-serif' font-size="23.5" font-weight="bold" textLength="77" lengthAdjust="spacingAndGlyphs" fill="#15956a">5.00 V</text>
<path d="M725.2 2100.3V2109.3L730.2 2106.3L735.2 2116.3V2108.3" fill="none" stroke="#15956a" stroke-width="3" stroke-linejoin="round"/>
<rect x="748.2" y="2127" width="16.5" height="20" rx="1.5" fill="#f58220"/>
<rect x="749.7" y="2128.5" width="13.5" height="4" fill="#fbb36b"/>
<rect x="770.7" y="2124" width="112.5" height="25.5" fill="#fbfbfb" stroke="#7e7e7e" stroke-width="2"/><path d="M771.7 2150.5H884.2V2125" fill="none" stroke="#c9c9c9" stroke-width="1.6"/>
<text x="775.2" y="2145.5" font-family='"DejaVu Sans", "Liberation Sans", sans-serif' font-size="23.5" font-weight="bold" textLength="93" lengthAdjust="spacingAndGlyphs" fill="#111">61.00 %</text></g>
<g id="scope-3"><path d="M1551.2 1464.6V2064.6M1626.3 1464.6V2064.6M1701.5 1464.6V2064.6M1776.6 1464.6V2064.6M1926.9 1464.6V2064.6M2002.1 1464.6V2064.6M2077.2 1464.6V2064.6M2152.3 1464.6V2064.6" fill="none" stroke="#2e2e2e" stroke-width="2.6" stroke-dasharray="2.6 12.4" stroke-dashoffset="1.3"/>
<path d="M1476 1539.6H2227.5M1476 1614.6H2227.5M1476 1689.6H2227.5M1476 1839.6H2227.5M1476 1914.6H2227.5M1476 1989.6H2227.5" fill="none" stroke="#2e2e2e" stroke-width="2.6" stroke-dasharray="2.6 12.4" stroke-dashoffset="1.3"/>
<path d="M1476 1764.6H2227.5M1851.8 1464.6V2064.6" stroke="#0d0d0d" stroke-width="2.6" fill="none"/>
<path d="M1476 1764.6H2227.5" stroke="#0d0d0d" stroke-width="9" stroke-dasharray="2.6 12.4" stroke-dashoffset="1.3" fill="none"/>
<path d="M1851.8 1464.6V2064.6" stroke="#0d0d0d" stroke-width="9" stroke-dasharray="2.6 12.4" stroke-dashoffset="1.3" fill="none"/>
<path d="M1476 1764.6H2227.5" stroke="#0d0d0d" stroke-width="13" stroke-dasharray="2.8 72.4" stroke-dashoffset="1.4" fill="none"/>
<path d="M1851.8 1464.6V2064.6" stroke="#0d0d0d" stroke-width="13" stroke-dasharray="2.8 72.2" stroke-dashoffset="1.4" fill="none"/>
<path d="M1476 1467.1H2227.5M1476 2062.1H2227.5" stroke="#0d0d0d" stroke-width="5" stroke-dasharray="2.6 12.4" stroke-dashoffset="1.3" fill="none"/>
<path d="M1478.5 1464.6V2064.6M2225 1464.6V2064.6" stroke="#0d0d0d" stroke-width="5" stroke-dasharray="2.6 12.4" stroke-dashoffset="1.3" fill="none"/>
<path d="M1476 1469.6H2227.5M1476 2059.6H2227.5" stroke="#0d0d0d" stroke-width="10" stroke-dasharray="2.8 72.4" stroke-dashoffset="1.4" fill="none"/>
<path d="M1481 1464.6V2064.6M2222.5 1464.6V2064.6" stroke="#0d0d0d" stroke-width="10" stroke-dasharray="2.8 72.2" stroke-dashoffset="1.4" fill="none"/>
<path d="M1473.4 2064.8V1462H2230.3" fill="none" stroke="#0d0d0d" stroke-width="5" stroke-linejoin="miter"/>
<path d="M2228 1459.1V2063H1470.5" fill="none" stroke="#0d0d0d" stroke-width="4.4" stroke-linejoin="miter"/>
<text x="1494" y="1453.1" font-family='"DejaVu Sans", "Liberation Sans", sans-serif' font-size="21" font-weight="bold" textLength="55" lengthAdjust="spacingAndGlyphs" fill="#161616">Stop</text>
<path d="M1582 1435.6V1460.6M2120.5 1438.6V1460.6" stroke="#a9a9a9" stroke-width="2.4" fill="none"/>
<rect x="1691.5" y="1444.6" width="322" height="15.5" fill="#c9f3f4"/>
<path d="M1696.5 1435.6H1691.5V1459.6M2008.5 1435.6H2013.5V1459.6" fill="none" stroke="#3a3a3a" stroke-width="2.6"/>
<path d="M1691.5 1445.1H2013.5" fill="none" stroke="#2f8f86" stroke-width="3"/>
<rect x="1781" y="1434.6" width="11" height="20" rx="1.5" fill="#f58220"/>
<path d="M1783.5 1438.6H1789.5M1786.5 1438.6V1451.6" stroke="#ffe7c9" stroke-width="1.8" fill="none"/>
<path d="M1695 1465.6H1709L1702 1472.6Z" fill="#e8532a"/>
<rect x="1693" y="1472.1" width="18" height="26" rx="3.5" fill="#f58220"/>
<path d="M1697.5 1478.6H1706.5M1702 1478.6V1492.6" stroke="#ffe3bf" stroke-width="3" fill="none"/>
<path d="M1613.2 1885V1914" stroke="#c8c8c0" stroke-width="2" fill="none"/>
<path d="M1613 1906.5H2226.5" stroke="#c5f3f2" stroke-width="5" fill="none" opacity=".6"/>
<polyline points="1477,1883.9 1485,1885 1493,1884.9 1501,1884.6 1509,1884 1517.1,1885.2 1525.1,1885.2 1533.1,1884.6 1541.1,1884.6 1549.1,1884.1 1557.1,1883.6 1565.1,1884.3 1573.1,1884.8 1581.2,1883.7 1589.2,1885.2 1597.2,1884.1 1605.2,1884.1 1613.2,1883.7" fill="none" stroke="#63bd3b" stroke-width="5"/>
<polyline points="1613.2,1914.9 1621.3,1913.3 1629.3,1913 1637.4,1915 1645.5,1913.4 1653.5,1913.2 1661.6,1914.3 1669.7,1913.7 1677.8,1914.8 1685.8,1913.5 1693.9,1914.9 1702,1913.6 1710,1914.2 1718.1,1914.9 1726.2,1914.4 1734.2,1914.8 1742.3,1914.4 1750.4,1913.1 1758.5,1914.8 1766.5,1914.2 1774.6,1913.6 1782.7,1913.4 1790.7,1914.7 1798.8,1914.2 1806.9,1914.9 1814.9,1914.5 1823,1914.9 1831.1,1914.1 1839.2,1914.4 1847.2,1914.2 1855.3,1913.5 1863.4,1914.9 1871.4,1913.6 1879.5,1914.6 1887.6,1914.9 1895.6,1914.3 1903.7,1913.3 1911.8,1914.7 1919.8,1914.3 1927.9,1913.4 1936,1913.1 1944.1,1914.1 1952.1,1913.1 1960.2,1914.9 1968.3,1914 1976.3,1914 1984.4,1913.8 1992.5,1914.3 2000.5,1914.8 2008.6,1913.6 2016.7,1913.7 2024.8,1914.2 2032.8,1913.6 2040.9,1914.2 2049,1914.1 2057,1913.9 2065.1,1914.3 2073.2,1914.1 2081.2,1913.2 2089.3,1915 2097.4,1913.7 2105.5,1913.9 2113.5,1913.8 2121.6,1914.9 2129.7,1914.9 2137.7,1914 2145.8,1913.8 2153.9,1913.2 2161.9,1914.8 2170,1913.3 2178.1,1914.1 2186.2,1913.7 2194.2,1913.7 2202.3,1913.7 2210.4,1913.4 2218.4,1913.1 2226.5,1914.1" fill="none" stroke="#63bd3b" stroke-width="6.4"/>
<polyline points="1613.2,1916.1 1625.2,1916.2 1637.3,1916 1649.3,1913.9 1661.3,1915.2 1673.3,1914.8 1685.4,1915.1 1697.4,1914 1709.4,1914.2 1721.4,1914.9 1733.5,1914.3 1745.5,1914.9 1757.5,1913.8 1769.5,1913.9 1781.6,1915.5 1793.6,1914.8 1805.6,1915 1817.6,1915.6 1829.7,1914.6 1841.7,1913.8 1853.7,1915.7 1865.7,1915.2 1877.8,1915.4 1889.8,1915.3 1901.8,1916.2 1913.8,1914.6 1925.9,1915.7 1937.9,1914.7 1949.9,1915.2 1961.9,1915.4 1974,1914.5 1986,1913.9 1998,1914.9 2010,1915.6 2022.1,1915.2 2034.1,1914.9 2046.1,1915.4 2058.1,1914.2 2070.2,1914.2 2082.2,1914.5 2094.2,1915.8 2106.2,1914.2 2118.3,1914 2130.3,1914 2142.3,1913.8 2154.3,1914.4 2166.4,1915.2 2178.4,1915.8 2190.4,1914.6 2202.4,1914.7 2214.5,1914.5 2226.5,1914.5" fill="none" stroke="#3f9a2c" stroke-width="1.6" opacity=".8"/>
<polyline points="1477,1992.8 1486.1,1993 1495.1,1992 1504.2,1993.3 1513.2,1992 1522.3,1992.8 1531.3,1991.8 1540.4,1992.9 1549.5,1991.9 1558.5,1992.8 1567.6,1992.9 1576.6,1992.9 1585.7,1992.4 1594.7,1993.1 1603.8,1993.3 1612.9,1991.9 1621.9,1992.5 1631,1993.2 1640,1992.9 1649.1,1992.4 1658.1,1992.2 1667.2,1993.2" fill="none" stroke="#3536a6" stroke-width="7.4"/>
<polyline points="1667.2,1992 1672.2,1977.5 1687.2,1914.5 1695.4,1851.5 1702.1,1808.3 1708,1765.2 1712.7,1733.7 1716,1758.5 1720.3,1776.8 1724.6,1748.6 1731.9,1732" fill="none" stroke="#3536a6" stroke-width="3.2" stroke-linejoin="round"/>
<polyline points="1729,1736 1751.8,1698.9 1771.7,1672.3 1791.7,1649.1 1811.6,1627.5 1831.5,1609.3 1851.4,1592.7 1871.3,1577.8 1891.2,1564.5 1911.1,1552.9 1924.4,1547.2 1934,1545" fill="none" stroke="#3536a6" stroke-width="5" stroke-linejoin="round"/>
<polyline points="1932,1544.6 1939,1545.6 1946,1545.5 1953,1544.2 1960,1545.5 1967.1,1545 1974.1,1543.9 1981.1,1545.7 1988.1,1544.3 1995.1,1544.4 2002.1,1544.6 2009.1,1544.9 2016.1,1544 2023.2,1545.1 2030.2,1545.4 2037.2,1544.8 2044.2,1545.3 2051.2,1545 2058.2,1545.4 2065.2,1544.1 2072.2,1544.4 2079.2,1544.6 2086.3,1543.9 2093.3,1545.6 2100.3,1545 2107.3,1543.9 2114.3,1544.8 2121.3,1544.5 2128.3,1544 2135.3,1544 2142.4,1544.6 2149.4,1543.8 2156.4,1544.8 2163.4,1544.7 2170.4,1543.9 2177.4,1545.4 2184.4,1543.7 2191.4,1544 2198.5,1545.3 2205.5,1544.1 2212.5,1544.5 2219.5,1544.7 2226.5,1544.5" fill="none" stroke="#3536a6" stroke-width="9"/>
<rect x="1443" y="1899.5" width="26" height="24" rx="2" fill="#1a9a5c"/><text x="1449" y="1919.5" font-family='"DejaVu Sans", "Liberation Sans", sans-serif' font-size="21" font-weight="bold" fill="#e9fff2">4</text>
<path d="M1444 1980H1464L1472.5 1992L1464 2004H1444Z" fill="#fbfbff" stroke="#33335a" stroke-width="2.4"/><text x="1448.5" y="2000" font-family='"DejaVu Sans", "Liberation Sans", sans-serif' font-size="21" font-weight="bold" fill="#2b2a6f">1</text>
<path d="M2206.5 1812L2216.5 1804V1820Z" fill="#2b2a8f"/><path d="M2215.5 1812H2224.5" stroke="#2b2a8f" stroke-width="3" fill="none"/>
<text x="1473" y="2089.9" font-family='"DejaVu Sans", "Liberation Sans", sans-serif' font-size="23.5" font-weight="bold" textLength="43" lengthAdjust="spacingAndGlyphs" fill="#2d2b93">Ch1</text>
<rect x="1521.2" y="2068.8" width="147.8" height="25.3" fill="#f6f6f6" stroke="#8e8e8e" stroke-width="2"/><path d="M1522.2 2095.1H1670V2069.8" fill="none" stroke="#c9c9c9" stroke-width="1.6"/>
<text x="1547" y="2089.9" font-family='"DejaVu Sans", "Liberation Sans", sans-serif' font-size="23.5" font-weight="bold" textLength="75" lengthAdjust="spacingAndGlyphs" fill="#2d2b93">2.00 V</text>
<path d="M1653 2072.9V2081.9L1658 2078.9L1663 2088.9V2080.9" fill="none" stroke="#2d2b93" stroke-width="3" stroke-linejoin="round"/>
<text x="1870" y="2089.9" font-family='"DejaVu Sans", "Liberation Sans", sans-serif' font-size="23.5" font-weight="bold" textLength="19" lengthAdjust="spacingAndGlyphs" fill="#111">M</text>
<rect x="1890.5" y="2068.8" width="89" height="25.3" fill="#f6f6f6" stroke="#8e8e8e" stroke-width="2"/><path d="M1891.5 2095.1H1980.5V2069.8" fill="none" stroke="#c9c9c9" stroke-width="1.6"/>
<text x="1894" y="2089.9" font-family='"DejaVu Sans", "Liberation Sans", sans-serif' font-size="23.5" font-weight="bold" textLength="83" lengthAdjust="spacingAndGlyphs" fill="#111">4.00ms</text>
<text x="2003" y="2089.9" font-family='"DejaVu Sans", "Liberation Sans", sans-serif' font-size="23.5" font-weight="bold" textLength="18" lengthAdjust="spacingAndGlyphs" fill="#111">A</text>
<rect x="2022.3" y="2068.8" width="208.2" height="26.3" fill="#f6f6f6" stroke="#8e8e8e" stroke-width="2"/><path d="M2023.3 2096.1H2231.5V2069.8" fill="none" stroke="#c9c9c9" stroke-width="1.6"/>
<text x="2038" y="2089.9" font-family='"DejaVu Sans", "Liberation Sans", sans-serif' font-size="23.5" font-weight="bold" textLength="44" lengthAdjust="spacingAndGlyphs" fill="#2d2b93">Ch1</text>
<path d="M2100 2087.9H2106L2112 2074.9H2119" fill="none" stroke="#111" stroke-width="3.2"/><path d="M2105 2083.9L2111.5 2076.9L2113 2084.9Z" fill="#111"/>
<text x="2229.5" y="2089.9" font-family='"DejaVu Sans", "Liberation Sans", sans-serif' font-size="23.5" font-weight="bold" text-anchor="end" textLength="77" lengthAdjust="spacingAndGlyphs" fill="#111">4.80 V</text>
<rect x="1670" y="2097.1" width="48.5" height="24.5" fill="#15956a"/>
<text x="1673" y="2116.9" font-family='"DejaVu Sans", "Liberation Sans", sans-serif' font-size="22" font-weight="bold" textLength="42" lengthAdjust="spacingAndGlyphs" fill="#d9ffe9">Ch4</text>
<rect x="1718" y="2096.1" width="148" height="25.5" fill="#f6f6f6" stroke="#8e8e8e" stroke-width="2"/><path d="M1719 2122.6H1867V2097.1" fill="none" stroke="#c9c9c9" stroke-width="1.6"/>
<text x="1743" y="2117.4" font-family='"DejaVu Sans", "Liberation Sans", sans-serif' font-size="23.5" font-weight="bold" textLength="77" lengthAdjust="spacingAndGlyphs" fill="#15956a">20.0 V</text>
<path d="M1850 2100.4V2109.4L1855 2106.4L1860 2116.4V2108.4" fill="none" stroke="#15956a" stroke-width="3" stroke-linejoin="round"/>
<rect x="1873" y="2127.1" width="16.5" height="20" rx="1.5" fill="#f58220"/>
<rect x="1874.5" y="2128.6" width="13.5" height="4" fill="#fbb36b"/>
<rect x="1895.5" y="2124.1" width="112.5" height="25.5" fill="#fbfbfb" stroke="#7e7e7e" stroke-width="2"/><path d="M1896.5 2150.6H2009V2125.1" fill="none" stroke="#c9c9c9" stroke-width="1.6"/>
<text x="1900" y="2145.6" font-family='"DejaVu Sans", "Liberation Sans", sans-serif' font-size="23.5" font-weight="bold" textLength="93" lengthAdjust="spacingAndGlyphs" fill="#111">30.20 %</text></g>
<g id="scope-4"><g fill="#f7f7f7"><rect x="418.5" y="2328" width="16" height="604.4"/><rect x="494" y="2328" width="16" height="604.4"/><rect x="569.5" y="2328" width="16" height="604.4"/><rect x="645" y="2328" width="16" height="604.4"/><rect x="720.5" y="2328" width="16" height="604.4"/><rect x="796" y="2328" width="16" height="604.4"/><rect x="871.5" y="2328" width="16" height="604.4"/><rect x="947" y="2328" width="16" height="604.4"/><rect x="1022.5" y="2328" width="16" height="604.4"/><rect x="351" y="2395.6" width="755" height="16"/><rect x="351" y="2471.1" width="755" height="16"/><rect x="351" y="2546.7" width="755" height="16"/><rect x="351" y="2622.2" width="755" height="16"/><rect x="351" y="2697.8" width="755" height="16"/><rect x="351" y="2773.3" width="755" height="16"/><rect x="351" y="2848.8" width="755" height="16"/></g>
<path d="M426.5 2328V2932.4M502 2328V2932.4M577.5 2328V2932.4M653 2328V2932.4M804 2328V2932.4M879.5 2328V2932.4M955 2328V2932.4M1030.5 2328V2932.4" fill="none" stroke="#c2c2c2" stroke-width="3.0" stroke-dasharray="3.0 12.1" stroke-dashoffset="1.5"/>
<path d="M351 2403.6H1106M351 2479.1H1106M351 2554.7H1106M351 2705.8H1106M351 2781.3H1106M351 2856.8H1106" fill="none" stroke="#c2c2c2" stroke-width="3.0" stroke-dasharray="3.0 12.1" stroke-dashoffset="1.5"/>
<path d="M351 2630.2H1106" stroke="#555" stroke-width="1.6" stroke-dasharray="9 6" fill="none"/>
<path d="M728.5 2328V2932.4" stroke="#8c8c8c" stroke-width="1.6" fill="none"/>
<path d="M728.5 2328V2932.4" stroke="#7a7a7a" stroke-width="7" stroke-dasharray="1.6 13.5" stroke-dashoffset="0.8" fill="none"/>
<path d="M351 2332H1106M351 2928.4H1106" stroke="#bdbdbd" stroke-width="7" stroke-dasharray="2 13.1" stroke-dashoffset="1" fill="none"/>
<path d="M355 2328V2932.4M1102 2328V2932.4" stroke="#bdbdbd" stroke-width="7" stroke-dasharray="2 13.1" stroke-dashoffset="1" fill="none"/>
<rect x="349" y="2325.8" width="758.5" height="608" fill="none" stroke="#4e4e4e" stroke-width="3.6"/>
<text x="369.1" y="2317" font-family='"DejaVu Sans", "Liberation Sans", sans-serif' font-size="21" stroke="#3c3c3c" stroke-width="0.8" textLength="56.2" lengthAdjust="spacingAndGlyphs" fill="#3c3c3c">Stop</text>
<path d="M457.4 2299V2324M998.1 2302V2324" stroke="#a9a9a9" stroke-width="2.4" fill="none"/>
<path d="M572.4 2299H567.4V2323M885.6 2299H890.6V2323" fill="none" stroke="#6a6a6a" stroke-width="2.6"/>
<path d="M567.4 2308.5H890.6" fill="none" stroke="#6a6a6a" stroke-width="3"/>
<rect x="660.5" y="2298" width="11" height="20" rx="1.5" fill="#f58220"/>
<path d="M663 2302H669M666 2302V2315" stroke="#ffe7c9" stroke-width="1.8" fill="none"/>
<path d="M571.4 2329H585.4L578.4 2336Z" fill="#e8532a"/>
<rect x="569.4" y="2335.5" width="18" height="26" rx="3.5" fill="#f58220"/>
<path d="M573.9 2342H582.9M578.4 2342V2356" stroke="#ffe3bf" stroke-width="3" fill="none"/>
<clipPath id="s4c"><polygon points="352,2576.7 392.7,2576.7 395.2,2596 402.9,2711.5 425.9,2613.1 574.1,2599.3 576.7,2560 581.4,2467.4 591.1,2497.7 599.6,2541.4 606.9,2570.6 614.2,2574.2 633.6,2568.2 712.7,2572.5 788.7,2576.7 791.2,2596 798.9,2711.5 821.9,2613.1 970.1,2599.3 972.7,2560 977.4,2467.4 987.1,2497.7 995.6,2541.4 1002.9,2570.6 1010.2,2574.2 1029.6,2568.2 1105,2572.3 1105,2667.8 1029.6,2662.9 1010.2,2667.8 1004.1,2665.3 995.6,2638.6 987.1,2602.2 975,2558.5 971.2,2640 968.9,2693.3 828,2703.7 818.4,2713 808.7,2743 802.7,2780 797.2,2818.3 790.7,2720 786.7,2672.6 712.7,2668 633.6,2662.9 614.2,2667.8 608.1,2665.3 599.6,2638.6 591.1,2602.2 579,2558.5 575.2,2640 572.9,2693.3 432,2703.7 422.4,2713 412.7,2743 406.7,2780 401.2,2818.3 394.7,2720 390.7,2672.6 352,2672.6"/></clipPath>
<polygon points="352,2576.7 392.7,2576.7 395.2,2596 402.9,2711.5 425.9,2613.1 574.1,2599.3 576.7,2560 581.4,2467.4 591.1,2497.7 599.6,2541.4 606.9,2570.6 614.2,2574.2 633.6,2568.2 712.7,2572.5 788.7,2576.7 791.2,2596 798.9,2711.5 821.9,2613.1 970.1,2599.3 972.7,2560 977.4,2467.4 987.1,2497.7 995.6,2541.4 1002.9,2570.6 1010.2,2574.2 1029.6,2568.2 1105,2572.3 1105,2667.8 1029.6,2662.9 1010.2,2667.8 1004.1,2665.3 995.6,2638.6 987.1,2602.2 975,2558.5 971.2,2640 968.9,2693.3 828,2703.7 818.4,2713 808.7,2743 802.7,2780 797.2,2818.3 790.7,2720 786.7,2672.6 712.7,2668 633.6,2662.9 614.2,2667.8 608.1,2665.3 599.6,2638.6 591.1,2602.2 579,2558.5 575.2,2640 572.9,2693.3 432,2703.7 422.4,2713 412.7,2743 406.7,2780 401.2,2818.3 394.7,2720 390.7,2672.6 352,2672.6" fill="#8b87d8" stroke="#7a75cb" stroke-width="2" stroke-linejoin="round"/>
<filter id="s4b" x="-5%" y="-5%" width="110%" height="110%"><feGaussianBlur stdDeviation="3"/></filter>
<g clip-path="url(#s4c)"><polygon points="352,2576.7 392.7,2576.7 395.2,2596 402.9,2711.5 425.9,2613.1 574.1,2599.3 576.7,2560 581.4,2467.4 591.1,2497.7 599.6,2541.4 606.9,2570.6 614.2,2574.2 633.6,2568.2 712.7,2572.5 788.7,2576.7 791.2,2596 798.9,2711.5 821.9,2613.1 970.1,2599.3 972.7,2560 977.4,2467.4 987.1,2497.7 995.6,2541.4 1002.9,2570.6 1010.2,2574.2 1029.6,2568.2 1105,2572.3 1105,2667.8 1029.6,2662.9 1010.2,2667.8 1004.1,2665.3 995.6,2638.6 987.1,2602.2 975,2558.5 971.2,2640 968.9,2693.3 828,2703.7 818.4,2713 808.7,2743 802.7,2780 797.2,2818.3 790.7,2720 786.7,2672.6 712.7,2668 633.6,2662.9 614.2,2667.8 608.1,2665.3 599.6,2638.6 591.1,2602.2 579,2558.5 575.2,2640 572.9,2693.3 432,2703.7 422.4,2713 412.7,2743 406.7,2780 401.2,2818.3 394.7,2720 390.7,2672.6 352,2672.6" fill="none" stroke="#6a64bb" stroke-width="26" stroke-linejoin="round" opacity=".75" filter="url(#s4b)"/></g>
<path d="M397.9 2790L401.2 2819L404.9 2792Z" fill="#4f4a86"/>
<path d="M578.3 2493L581.4 2466.5L585.7 2490Z" fill="#4f4a86"/>
<path d="M793.9 2790L797.2 2819L800.9 2792Z" fill="#4f4a86"/>
<path d="M974.3 2493L977.4 2466.5L981.7 2490Z" fill="#4f4a86"/>
<path d="M351 2630.2H1106" stroke="#3b3875" stroke-width="1.8" stroke-dasharray="10 5" fill="none" opacity=".75"/>
<path d="M318 2617.2H336L346 2630.2L336 2643.2H318Z" fill="#2f2b7c"/>
<text x="321" y="2638.2" font-family='"DejaVu Sans", "Liberation Sans", sans-serif' font-size="21" font-weight="bold" fill="#fff">1</text>
<path d="M1085.5 2489l9-7.5v15z" fill="#2f2b8c"/><path d="M1093 2489h10" stroke="#2f2b8c" stroke-width="2.6"/>
<rect x="345" y="2938.6" width="49.5" height="22.40000000000009" fill="#3a2f9c"/>
<text x="347.5" y="2957.2" font-family='"DejaVu Sans", "Liberation Sans", sans-serif' font-size="22" font-weight="bold" textLength="44" lengthAdjust="spacingAndGlyphs" fill="#fff">Ch1</text>
<rect x="396" y="2938.6" width="149" height="22.40000000000009" fill="#f7f7f7"/>
<text x="420.5" y="2957.2" font-family='"DejaVu Sans", "Liberation Sans", sans-serif' font-size="22" font-weight="normal" textLength="80" lengthAdjust="spacingAndGlyphs" stroke="#3d3d3d" stroke-width="0.7" fill="#3d3d3d">100mV</text>
<path d="M507 2952q4.5-11 9 0t9 0" fill="none" stroke="#55557a" stroke-width="2.2"/>
<path d="M529 2942v9l4-3 5 9v-8" fill="none" stroke="#4b49a8" stroke-width="2.2"/>
<text x="745" y="2957.2" font-family='"DejaVu Sans", "Liberation Sans", sans-serif' font-size="22" font-weight="normal" textLength="17.5" lengthAdjust="spacingAndGlyphs" stroke="#3d3d3d" stroke-width="0.7" fill="#3d3d3d">M</text>
<rect x="764.7" y="2938.0" width="92" height="24.000000000000092" fill="#f7f7f7" stroke="#c4c4c4" stroke-width="1.8"/>
<text x="775" y="2957.2" font-family='"DejaVu Sans", "Liberation Sans", sans-serif' font-size="22" font-weight="normal" textLength="72" lengthAdjust="spacingAndGlyphs" stroke="#3d3d3d" stroke-width="0.7" fill="#3d3d3d">200µs</text>
<text x="880" y="2957.2" font-family='"DejaVu Sans", "Liberation Sans", sans-serif' font-size="22" font-weight="normal" textLength="16" lengthAdjust="spacingAndGlyphs" stroke="#3d3d3d" stroke-width="0.7" fill="#3d3d3d">A</text>
<rect x="897.4" y="2938.0" width="209" height="25.000000000000092" fill="#f7f7f7" stroke="#c4c4c4" stroke-width="1.8"/>
<text x="917" y="2957.2" font-family='"DejaVu Sans", "Liberation Sans", sans-serif' font-size="22" font-weight="normal" textLength="43" lengthAdjust="spacingAndGlyphs" stroke="#3c3a9c" stroke-width="0.7" fill="#3c3a9c">Ch1</text>
<path d="M979 2955h5l7-15h6" fill="none" stroke="#333" stroke-width="2.8"/>
<text x="1105.5" y="2957.2" font-family='"DejaVu Sans", "Liberation Sans", sans-serif' font-size="22" font-weight="normal" text-anchor="end" textLength="79" lengthAdjust="spacingAndGlyphs" stroke="#3d3d3d" stroke-width="0.7" fill="#3d3d3d">186mV</text>
<rect x="747.5" y="2996" width="19" height="20" rx="2" fill="#f6a54e"/>
<path d="M751 3000h12M757 3000v13" stroke="#e0661c" stroke-width="3.2" fill="none"/>
<rect x="772" y="2993.7" width="113" height="24.6" fill="#f7f7f7" stroke="#c4c4c4" stroke-width="1.8"/>
<text x="778" y="3014" font-family='"DejaVu Sans", "Liberation Sans", sans-serif' font-size="22" font-weight="normal" textLength="90" lengthAdjust="spacingAndGlyphs" stroke="#3d3d3d" stroke-width="0.7" fill="#3d3d3d">30.20 %</text></g>
<g id="scope-5"><path d="M1552.1 2327.8V2929.4M1627.7 2327.8V2929.4M1703.3 2327.8V2929.4M1778.9 2327.8V2929.4M1930.1 2327.8V2929.4M2005.7 2327.8V2929.4M2081.3 2327.8V2929.4M2156.9 2327.8V2929.4" fill="none" stroke="#2e2e2e" stroke-width="2.6" stroke-dasharray="2.6 12.4" stroke-dashoffset="1.3"/>
<path d="M1476.5 2403H2232.5M1476.5 2478.2H2232.5M1476.5 2553.4H2232.5M1476.5 2703.8H2232.5M1476.5 2779H2232.5M1476.5 2854.2H2232.5" fill="none" stroke="#2e2e2e" stroke-width="2.6" stroke-dasharray="2.6 12.5" stroke-dashoffset="1.3"/>
<path d="M1476.5 2628.6H2232.5M1854.5 2327.8V2929.4" stroke="#0d0d0d" stroke-width="2.6" fill="none"/>
<path d="M1476.5 2628.6H2232.5" stroke="#0d0d0d" stroke-width="9" stroke-dasharray="2.6 12.5" stroke-dashoffset="1.3" fill="none"/>
<path d="M1854.5 2327.8V2929.4" stroke="#0d0d0d" stroke-width="9" stroke-dasharray="2.6 12.4" stroke-dashoffset="1.3" fill="none"/>
<path d="M1476.5 2628.6H2232.5" stroke="#0d0d0d" stroke-width="13" stroke-dasharray="2.8 72.8" stroke-dashoffset="1.4" fill="none"/>
<path d="M1854.5 2327.8V2929.4" stroke="#0d0d0d" stroke-width="13" stroke-dasharray="2.8 72.4" stroke-dashoffset="1.4" fill="none"/>
<path d="M1476.5 2330.3H2232.5M1476.5 2926.9H2232.5" stroke="#0d0d0d" stroke-width="5" stroke-dasharray="2.6 12.5" stroke-dashoffset="1.3" fill="none"/>
<path d="M1479 2327.8V2929.4M2230 2327.8V2929.4" stroke="#0d0d0d" stroke-width="5" stroke-dasharray="2.6 12.4" stroke-dashoffset="1.3" fill="none"/>
<path d="M1476.5 2332.8H2232.5M1476.5 2924.4H2232.5" stroke="#0d0d0d" stroke-width="10" stroke-dasharray="2.8 72.8" stroke-dashoffset="1.4" fill="none"/>
<path d="M1481.5 2327.8V2929.4M2227.5 2327.8V2929.4" stroke="#0d0d0d" stroke-width="10" stroke-dasharray="2.8 72.4" stroke-dashoffset="1.4" fill="none"/>
<path d="M1473.9 2929.6V2325.2H2235.3" fill="none" stroke="#0d0d0d" stroke-width="5" stroke-linejoin="miter"/>
<path d="M2233 2322.3V2927.8H1471" fill="none" stroke="#0d0d0d" stroke-width="4.4" stroke-linejoin="miter"/>
<text x="1494.6" y="2316.3" font-family='"DejaVu Sans", "Liberation Sans", sans-serif' font-size="21" font-weight="bold" textLength="55.3" lengthAdjust="spacingAndGlyphs" fill="#161616">Stop</text>
<path d="M1583.1 2298.8V2323.8M2124.4 2301.8V2323.8" stroke="#a9a9a9" stroke-width="2.4" fill="none"/>
<path d="M1698.1 2298.8H1693.1V2322.8M2011.9 2298.8H2016.9V2322.8" fill="none" stroke="#3a3a3a" stroke-width="2.6"/>
<path d="M1693.1 2308.3H2016.9" fill="none" stroke="#3a3a3a" stroke-width="3"/>
<rect x="1784.8" y="2297.8" width="11" height="20" rx="1.5" fill="#f58220"/>
<path d="M1787.3 2301.8H1793.3M1790.3 2301.8V2314.8" stroke="#ffe7c9" stroke-width="1.8" fill="none"/>
<path d="M1696 2328.8H1710L1703 2335.8Z" fill="#e8532a"/>
<rect x="1694" y="2335.3" width="18" height="26" rx="3.5" fill="#f58220"/>
<path d="M1698.5 2341.8H1707.5M1703 2341.8V2355.8" stroke="#ffe3bf" stroke-width="3" fill="none"/>
<clipPath id="s5c"><rect x="1478" y="2327.8" width="753" height="601.6"/></clipPath>
<g clip-path="url(#s5c)" fill="none" stroke-linejoin="round" stroke-linecap="round">
<path d="M1469.1 2569.5C1470.8 2563.6 1475.9 2543 1479.3 2533.9C1482.7 2524.8 1486.5 2518.4 1489.5 2514.8C1492.5 2511.2 1494.9 2511.2 1497.3 2512.2C1499.7 2513.2 1502.1 2517 1503.7 2521C1505.3 2525 1505.7 2528.7 1506.7 2536.4C1507.8 2544.1 1508.4 2559.8 1510 2567C1511.6 2574.2 1514.1 2576.9 1516.4 2579.7C1518.7 2582.4 1520.6 2584.3 1524 2583.5C1527.4 2582.7 1532.1 2577.8 1536.8 2574.6C1541.5 2571.4 1547.8 2564.8 1552.1 2564.4C1556.3 2564 1558.9 2567.3 1562.3 2572C1565.7 2576.7 1569 2584 1572.4 2592.5C1575.8 2601 1578.3 2609 1582.6 2623C1586.8 2637 1592.8 2659.1 1597.9 2676.5C1603 2693.9 1609 2714.8 1613.2 2727.5C1617.5 2740.2 1620.4 2746.4 1623.4 2753C1626.4 2759.6 1628.5 2763.4 1631 2767C1633.5 2770.6 1636.2 2774.6 1638.7 2774.6C1641.2 2774.6 1643.8 2771.9 1646.3 2767C1648.8 2762.1 1651.5 2754 1654 2745.3C1656.5 2736.6 1659.1 2726.2 1661.6 2714.7C1664.1 2703.2 1666.2 2691.8 1669.2 2676.5C1672.2 2661.2 1676 2640.8 1679.4 2623C1682.8 2605.2 1686.2 2584.3 1689.6 2569.5C1693 2554.7 1696.4 2543 1699.8 2533.9C1703.2 2524.8 1707 2518.4 1710 2514.8C1713 2511.2 1715.4 2511.2 1717.8 2512.2C1720.2 2513.2 1722.6 2517 1724.2 2521C1725.8 2525 1726.2 2528.7 1727.2 2536.4C1728.2 2544.1 1728.9 2559.8 1730.5 2567C1732.1 2574.2 1734.6 2576.9 1736.9 2579.7C1739.2 2582.4 1741.1 2584.3 1744.5 2583.5C1747.9 2582.7 1752.6 2577.8 1757.3 2574.6C1762 2571.4 1768.3 2564.8 1772.6 2564.4C1776.8 2564 1779.4 2567.3 1782.8 2572C1786.2 2576.7 1789.5 2584 1792.9 2592.5C1796.3 2601 1798.8 2609 1803.1 2623C1807.3 2637 1813.3 2659.1 1818.4 2676.5C1823.5 2693.9 1829.5 2714.8 1833.7 2727.5C1838 2740.2 1840.9 2746.4 1843.9 2753C1846.9 2759.6 1849 2763.4 1851.5 2767C1854 2770.6 1856.7 2774.6 1859.2 2774.6C1861.8 2774.6 1864.2 2771.9 1866.8 2767C1869.3 2762.1 1872 2754 1874.5 2745.3C1877 2736.6 1879.6 2726.2 1882.1 2714.7C1884.6 2703.2 1886.7 2691.8 1889.7 2676.5C1892.7 2661.2 1896.5 2640.8 1899.9 2623C1903.3 2605.2 1906.7 2584.3 1910.1 2569.5C1913.5 2554.7 1916.9 2543 1920.3 2533.9C1923.7 2524.8 1927.5 2518.4 1930.5 2514.8C1933.5 2511.2 1935.9 2511.2 1938.3 2512.2C1940.7 2513.2 1943.1 2517 1944.7 2521C1946.3 2525 1946.7 2528.7 1947.7 2536.4C1948.8 2544.1 1949.4 2559.8 1951 2567C1952.6 2574.2 1955.1 2576.9 1957.4 2579.7C1959.7 2582.4 1961.6 2584.3 1965 2583.5C1968.4 2582.7 1973.1 2577.8 1977.8 2574.6C1982.5 2571.4 1988.8 2564.8 1993.1 2564.4C1997.3 2564 1999.9 2567.3 2003.3 2572C2006.7 2576.7 2010 2584 2013.4 2592.5C2016.8 2601 2019.3 2609 2023.6 2623C2027.8 2637 2033.8 2659.1 2038.9 2676.5C2044 2693.9 2049.9 2714.8 2054.2 2727.5C2058.4 2740.2 2061.4 2746.4 2064.4 2753C2067.4 2759.6 2069.4 2763.4 2072 2767C2074.6 2770.6 2077.1 2774.6 2079.7 2774.6C2082.2 2774.6 2084.8 2771.9 2087.3 2767C2089.9 2762.1 2092.4 2754 2095 2745.3C2097.6 2736.6 2100.1 2726.2 2102.6 2714.7C2105.1 2703.2 2107.2 2691.8 2110.2 2676.5C2113.2 2661.2 2117 2640.8 2120.4 2623C2123.8 2605.2 2127.2 2584.3 2130.6 2569.5C2134 2554.7 2137.4 2543 2140.8 2533.9C2144.2 2524.8 2148 2518.4 2151 2514.8C2154 2511.2 2156.4 2511.2 2158.8 2512.2C2161.2 2513.2 2163.6 2517 2165.2 2521C2166.8 2525 2167.2 2528.7 2168.2 2536.4C2169.2 2544.1 2169.9 2559.8 2171.5 2567C2173.1 2574.2 2175.6 2576.9 2177.9 2579.7C2180.2 2582.4 2182.1 2584.3 2185.5 2583.5C2188.9 2582.7 2193.6 2577.8 2198.3 2574.6C2203 2571.4 2209.4 2564.8 2213.6 2564.4C2217.9 2564 2220.4 2567.3 2223.8 2572C2227.2 2576.7 2232.2 2589.1 2233.9 2592.5" stroke="#6d86e2" stroke-width="9" opacity=".55"/>
<path d="M1469.1 2569.5C1470.8 2563.6 1475.9 2543 1479.3 2533.9C1482.7 2524.8 1486.5 2518.4 1489.5 2514.8C1492.5 2511.2 1494.9 2511.2 1497.3 2512.2C1499.7 2513.2 1502.1 2517 1503.7 2521C1505.3 2525 1505.7 2528.7 1506.7 2536.4C1507.8 2544.1 1508.4 2559.8 1510 2567C1511.6 2574.2 1514.1 2576.9 1516.4 2579.7C1518.7 2582.4 1520.6 2584.3 1524 2583.5C1527.4 2582.7 1532.1 2577.8 1536.8 2574.6C1541.5 2571.4 1547.8 2564.8 1552.1 2564.4C1556.3 2564 1558.9 2567.3 1562.3 2572C1565.7 2576.7 1569 2584 1572.4 2592.5C1575.8 2601 1578.3 2609 1582.6 2623C1586.8 2637 1592.8 2659.1 1597.9 2676.5C1603 2693.9 1609 2714.8 1613.2 2727.5C1617.5 2740.2 1620.4 2746.4 1623.4 2753C1626.4 2759.6 1628.5 2763.4 1631 2767C1633.5 2770.6 1636.2 2774.6 1638.7 2774.6C1641.2 2774.6 1643.8 2771.9 1646.3 2767C1648.8 2762.1 1651.5 2754 1654 2745.3C1656.5 2736.6 1659.1 2726.2 1661.6 2714.7C1664.1 2703.2 1666.2 2691.8 1669.2 2676.5C1672.2 2661.2 1676 2640.8 1679.4 2623C1682.8 2605.2 1686.2 2584.3 1689.6 2569.5C1693 2554.7 1696.4 2543 1699.8 2533.9C1703.2 2524.8 1707 2518.4 1710 2514.8C1713 2511.2 1715.4 2511.2 1717.8 2512.2C1720.2 2513.2 1722.6 2517 1724.2 2521C1725.8 2525 1726.2 2528.7 1727.2 2536.4C1728.2 2544.1 1728.9 2559.8 1730.5 2567C1732.1 2574.2 1734.6 2576.9 1736.9 2579.7C1739.2 2582.4 1741.1 2584.3 1744.5 2583.5C1747.9 2582.7 1752.6 2577.8 1757.3 2574.6C1762 2571.4 1768.3 2564.8 1772.6 2564.4C1776.8 2564 1779.4 2567.3 1782.8 2572C1786.2 2576.7 1789.5 2584 1792.9 2592.5C1796.3 2601 1798.8 2609 1803.1 2623C1807.3 2637 1813.3 2659.1 1818.4 2676.5C1823.5 2693.9 1829.5 2714.8 1833.7 2727.5C1838 2740.2 1840.9 2746.4 1843.9 2753C1846.9 2759.6 1849 2763.4 1851.5 2767C1854 2770.6 1856.7 2774.6 1859.2 2774.6C1861.8 2774.6 1864.2 2771.9 1866.8 2767C1869.3 2762.1 1872 2754 1874.5 2745.3C1877 2736.6 1879.6 2726.2 1882.1 2714.7C1884.6 2703.2 1886.7 2691.8 1889.7 2676.5C1892.7 2661.2 1896.5 2640.8 1899.9 2623C1903.3 2605.2 1906.7 2584.3 1910.1 2569.5C1913.5 2554.7 1916.9 2543 1920.3 2533.9C1923.7 2524.8 1927.5 2518.4 1930.5 2514.8C1933.5 2511.2 1935.9 2511.2 1938.3 2512.2C1940.7 2513.2 1943.1 2517 1944.7 2521C1946.3 2525 1946.7 2528.7 1947.7 2536.4C1948.8 2544.1 1949.4 2559.8 1951 2567C1952.6 2574.2 1955.1 2576.9 1957.4 2579.7C1959.7 2582.4 1961.6 2584.3 1965 2583.5C1968.4 2582.7 1973.1 2577.8 1977.8 2574.6C1982.5 2571.4 1988.8 2564.8 1993.1 2564.4C1997.3 2564 1999.9 2567.3 2003.3 2572C2006.7 2576.7 2010 2584 2013.4 2592.5C2016.8 2601 2019.3 2609 2023.6 2623C2027.8 2637 2033.8 2659.1 2038.9 2676.5C2044 2693.9 2049.9 2714.8 2054.2 2727.5C2058.4 2740.2 2061.4 2746.4 2064.4 2753C2067.4 2759.6 2069.4 2763.4 2072 2767C2074.6 2770.6 2077.1 2774.6 2079.7 2774.6C2082.2 2774.6 2084.8 2771.9 2087.3 2767C2089.9 2762.1 2092.4 2754 2095 2745.3C2097.6 2736.6 2100.1 2726.2 2102.6 2714.7C2105.1 2703.2 2107.2 2691.8 2110.2 2676.5C2113.2 2661.2 2117 2640.8 2120.4 2623C2123.8 2605.2 2127.2 2584.3 2130.6 2569.5C2134 2554.7 2137.4 2543 2140.8 2533.9C2144.2 2524.8 2148 2518.4 2151 2514.8C2154 2511.2 2156.4 2511.2 2158.8 2512.2C2161.2 2513.2 2163.6 2517 2165.2 2521C2166.8 2525 2167.2 2528.7 2168.2 2536.4C2169.2 2544.1 2169.9 2559.8 2171.5 2567C2173.1 2574.2 2175.6 2576.9 2177.9 2579.7C2180.2 2582.4 2182.1 2584.3 2185.5 2583.5C2188.9 2582.7 2193.6 2577.8 2198.3 2574.6C2203 2571.4 2209.4 2564.8 2213.6 2564.4C2217.9 2564 2220.4 2567.3 2223.8 2572C2227.2 2576.7 2232.2 2589.1 2233.9 2592.5" stroke="#3a3aa9" stroke-width="6"/>
<path d="M1475.3 2536.5C1477.3 2533.4 1483.6 2522.1 1487.3 2518C1491 2513.9 1494.6 2511.7 1497.3 2512.2C1500 2512.7 1502.1 2517 1503.7 2521C1505.3 2525 1505.7 2528.7 1506.7 2536.4C1507.8 2544.1 1508.4 2559.8 1510 2567C1511.6 2574.2 1514.1 2576.9 1516.4 2579.7C1518.7 2582.4 1520.6 2584.3 1524 2583.5C1527.4 2582.7 1532.1 2577.8 1536.8 2574.6C1541.5 2571.4 1547.8 2564.8 1552.1 2564.4C1556.3 2564 1558.9 2567.3 1562.3 2572C1565.7 2576.7 1569 2584 1572.4 2592.5C1575.8 2601 1578.3 2609 1582.6 2623C1586.8 2637 1592.8 2659.1 1597.9 2676.5C1603 2693.9 1609 2714.8 1613.2 2727.5C1617.5 2740.2 1620.4 2746.4 1623.4 2753C1626.4 2759.6 1628.5 2763.4 1631 2767C1633.5 2770.6 1636.2 2774.6 1638.7 2774.6C1641.2 2774.6 1645 2768.3 1646.3 2767" stroke="#4a62cf" stroke-width="12" opacity=".45"/>
<path d="M1475.3 2536.5C1477.3 2533.4 1483.6 2522.1 1487.3 2518C1491 2513.9 1494.6 2511.7 1497.3 2512.2C1500 2512.7 1502.1 2517 1503.7 2521C1505.3 2525 1505.7 2528.7 1506.7 2536.4C1507.8 2544.1 1508.4 2559.8 1510 2567C1511.6 2574.2 1514.1 2576.9 1516.4 2579.7C1518.7 2582.4 1520.6 2584.3 1524 2583.5C1527.4 2582.7 1532.1 2577.8 1536.8 2574.6C1541.5 2571.4 1547.8 2564.8 1552.1 2564.4C1556.3 2564 1558.9 2567.3 1562.3 2572C1565.7 2576.7 1569 2584 1572.4 2592.5C1575.8 2601 1578.3 2609 1582.6 2623C1586.8 2637 1592.8 2659.1 1597.9 2676.5C1603 2693.9 1609 2714.8 1613.2 2727.5C1617.5 2740.2 1620.4 2746.4 1623.4 2753C1626.4 2759.6 1628.5 2763.4 1631 2767C1633.5 2770.6 1636.2 2774.6 1638.7 2774.6C1641.2 2774.6 1645 2768.3 1646.3 2767" stroke="#38389f" stroke-width="8.6"/>
<path d="M1695.8 2536.5C1697.8 2533.4 1704.1 2522.1 1707.8 2518C1711.5 2513.9 1715.1 2511.7 1717.8 2512.2C1720.5 2512.7 1722.6 2517 1724.2 2521C1725.8 2525 1726.2 2528.7 1727.2 2536.4C1728.2 2544.1 1728.9 2559.8 1730.5 2567C1732.1 2574.2 1734.6 2576.9 1736.9 2579.7C1739.2 2582.4 1741.1 2584.3 1744.5 2583.5C1747.9 2582.7 1752.6 2577.8 1757.3 2574.6C1762 2571.4 1768.3 2564.8 1772.6 2564.4C1776.8 2564 1779.4 2567.3 1782.8 2572C1786.2 2576.7 1789.5 2584 1792.9 2592.5C1796.3 2601 1798.8 2609 1803.1 2623C1807.3 2637 1813.3 2659.1 1818.4 2676.5C1823.5 2693.9 1829.5 2714.8 1833.7 2727.5C1838 2740.2 1840.9 2746.4 1843.9 2753C1846.9 2759.6 1849 2763.4 1851.5 2767C1854 2770.6 1856.7 2774.6 1859.2 2774.6C1861.8 2774.6 1865.5 2768.3 1866.8 2767" stroke="#4a62cf" stroke-width="12" opacity=".45"/>
<path d="M1695.8 2536.5C1697.8 2533.4 1704.1 2522.1 1707.8 2518C1711.5 2513.9 1715.1 2511.7 1717.8 2512.2C1720.5 2512.7 1722.6 2517 1724.2 2521C1725.8 2525 1726.2 2528.7 1727.2 2536.4C1728.2 2544.1 1728.9 2559.8 1730.5 2567C1732.1 2574.2 1734.6 2576.9 1736.9 2579.7C1739.2 2582.4 1741.1 2584.3 1744.5 2583.5C1747.9 2582.7 1752.6 2577.8 1757.3 2574.6C1762 2571.4 1768.3 2564.8 1772.6 2564.4C1776.8 2564 1779.4 2567.3 1782.8 2572C1786.2 2576.7 1789.5 2584 1792.9 2592.5C1796.3 2601 1798.8 2609 1803.1 2623C1807.3 2637 1813.3 2659.1 1818.4 2676.5C1823.5 2693.9 1829.5 2714.8 1833.7 2727.5C1838 2740.2 1840.9 2746.4 1843.9 2753C1846.9 2759.6 1849 2763.4 1851.5 2767C1854 2770.6 1856.7 2774.6 1859.2 2774.6C1861.8 2774.6 1865.5 2768.3 1866.8 2767" stroke="#38389f" stroke-width="8.6"/>
<path d="M1916.3 2536.5C1918.3 2533.4 1924.6 2522.1 1928.3 2518C1932 2513.9 1935.6 2511.7 1938.3 2512.2C1941 2512.7 1943.1 2517 1944.7 2521C1946.3 2525 1946.7 2528.7 1947.7 2536.4C1948.8 2544.1 1949.4 2559.8 1951 2567C1952.6 2574.2 1955.1 2576.9 1957.4 2579.7C1959.7 2582.4 1961.6 2584.3 1965 2583.5C1968.4 2582.7 1973.1 2577.8 1977.8 2574.6C1982.5 2571.4 1988.8 2564.8 1993.1 2564.4C1997.3 2564 1999.9 2567.3 2003.3 2572C2006.7 2576.7 2010 2584 2013.4 2592.5C2016.8 2601 2019.3 2609 2023.6 2623C2027.8 2637 2033.8 2659.1 2038.9 2676.5C2044 2693.9 2049.9 2714.8 2054.2 2727.5C2058.4 2740.2 2061.4 2746.4 2064.4 2753C2067.4 2759.6 2069.4 2763.4 2072 2767C2074.6 2770.6 2077.1 2774.6 2079.7 2774.6C2082.2 2774.6 2086 2768.3 2087.3 2767" stroke="#4a62cf" stroke-width="12" opacity=".45"/>
<path d="M1916.3 2536.5C1918.3 2533.4 1924.6 2522.1 1928.3 2518C1932 2513.9 1935.6 2511.7 1938.3 2512.2C1941 2512.7 1943.1 2517 1944.7 2521C1946.3 2525 1946.7 2528.7 1947.7 2536.4C1948.8 2544.1 1949.4 2559.8 1951 2567C1952.6 2574.2 1955.1 2576.9 1957.4 2579.7C1959.7 2582.4 1961.6 2584.3 1965 2583.5C1968.4 2582.7 1973.1 2577.8 1977.8 2574.6C1982.5 2571.4 1988.8 2564.8 1993.1 2564.4C1997.3 2564 1999.9 2567.3 2003.3 2572C2006.7 2576.7 2010 2584 2013.4 2592.5C2016.8 2601 2019.3 2609 2023.6 2623C2027.8 2637 2033.8 2659.1 2038.9 2676.5C2044 2693.9 2049.9 2714.8 2054.2 2727.5C2058.4 2740.2 2061.4 2746.4 2064.4 2753C2067.4 2759.6 2069.4 2763.4 2072 2767C2074.6 2770.6 2077.1 2774.6 2079.7 2774.6C2082.2 2774.6 2086 2768.3 2087.3 2767" stroke="#38389f" stroke-width="8.6"/>
<path d="M2136.8 2536.5C2138.8 2533.4 2145.1 2522.1 2148.8 2518C2152.5 2513.9 2156.1 2511.7 2158.8 2512.2C2161.5 2512.7 2163.6 2517 2165.2 2521C2166.8 2525 2167.2 2528.7 2168.2 2536.4C2169.2 2544.1 2169.9 2559.8 2171.5 2567C2173.1 2574.2 2175.6 2576.9 2177.9 2579.7C2180.2 2582.4 2182.1 2584.3 2185.5 2583.5C2188.9 2582.7 2193.6 2577.8 2198.3 2574.6C2203 2571.4 2209.4 2564.8 2213.6 2564.4C2217.9 2564 2220.4 2567.3 2223.8 2572C2227.2 2576.7 2230.5 2584 2233.9 2592.5C2237.3 2601 2239.9 2609 2244.1 2623C2248.4 2637 2254.3 2659.1 2259.4 2676.5C2264.5 2693.9 2270.5 2714.8 2274.7 2727.5C2279 2740.2 2281.9 2746.4 2284.9 2753C2287.9 2759.6 2289.9 2763.4 2292.5 2767C2295.1 2770.6 2297.7 2774.6 2300.2 2774.6C2302.8 2774.6 2306.5 2768.3 2307.8 2767" stroke="#4a62cf" stroke-width="12" opacity=".45"/>
<path d="M2136.8 2536.5C2138.8 2533.4 2145.1 2522.1 2148.8 2518C2152.5 2513.9 2156.1 2511.7 2158.8 2512.2C2161.5 2512.7 2163.6 2517 2165.2 2521C2166.8 2525 2167.2 2528.7 2168.2 2536.4C2169.2 2544.1 2169.9 2559.8 2171.5 2567C2173.1 2574.2 2175.6 2576.9 2177.9 2579.7C2180.2 2582.4 2182.1 2584.3 2185.5 2583.5C2188.9 2582.7 2193.6 2577.8 2198.3 2574.6C2203 2571.4 2209.4 2564.8 2213.6 2564.4C2217.9 2564 2220.4 2567.3 2223.8 2572C2227.2 2576.7 2230.5 2584 2233.9 2592.5C2237.3 2601 2239.9 2609 2244.1 2623C2248.4 2637 2254.3 2659.1 2259.4 2676.5C2264.5 2693.9 2270.5 2714.8 2274.7 2727.5C2279 2740.2 2281.9 2746.4 2284.9 2753C2287.9 2759.6 2289.9 2763.4 2292.5 2767C2295.1 2770.6 2297.7 2774.6 2300.2 2774.6C2302.8 2774.6 2306.5 2768.3 2307.8 2767" stroke="#38389f" stroke-width="8.6"/>
</g>
<path d="M1444.5 2615.6H1463.5L1472 2628.6L1463.5 2641.6H1444.5Z" fill="#2b2a8f"/>
<path d="M2211.5 2538L2221.5 2530V2546Z" fill="#2b2a8f"/><path d="M2220.5 2538H2229.5" stroke="#2b2a8f" stroke-width="3" fill="none"/>
<rect x="1471.5" y="2936.6" width="46.7" height="23.3" fill="#2d2b93"/>
<text x="1474" y="2956.7" font-family='"DejaVu Sans", "Liberation Sans", sans-serif' font-size="22" font-weight="bold" textLength="41.2" lengthAdjust="spacingAndGlyphs" fill="#f0f0ff">Ch1</text>
<rect x="1521.9" y="2936.1" width="148.6" height="25.3" fill="#f6f6f6" stroke="#8e8e8e" stroke-width="2"/><path d="M1522.9 2962.4H1671.5V2937.1" fill="none" stroke="#c9c9c9" stroke-width="1.6"/>
<text x="1538.8" y="2957.2" font-family='"DejaVu Sans", "Liberation Sans", sans-serif' font-size="23.5" font-weight="bold" textLength="96.5" lengthAdjust="spacingAndGlyphs" fill="#2d2b93">20.0mV</text>
<path d="M1637.4 2951.2q4 -9 8 0t8 0" fill="none" stroke="#2d2b93" stroke-width="2.4"/>
<path d="M1657.5 2940.2V2949.2L1662.5 2946.2L1667.5 2956.2V2948.2" fill="none" stroke="#2d2b93" stroke-width="3" stroke-linejoin="round"/>
<text x="1872.6" y="2957.2" font-family='"DejaVu Sans", "Liberation Sans", sans-serif' font-size="23.5" font-weight="bold" textLength="19.1" lengthAdjust="spacingAndGlyphs" fill="#111">M</text>
<rect x="1893.2" y="2936.1" width="89.5" height="25.3" fill="#f6f6f6" stroke="#8e8e8e" stroke-width="2"/><path d="M1894.2 2962.4H1983.7V2937.1" fill="none" stroke="#c9c9c9" stroke-width="1.6"/>
<text x="1896.7" y="2957.2" font-family='"DejaVu Sans", "Liberation Sans", sans-serif' font-size="23.5" font-weight="bold" textLength="83.4" lengthAdjust="spacingAndGlyphs" fill="#111">1.00µs</text>
<text x="2006.3" y="2957.2" font-family='"DejaVu Sans", "Liberation Sans", sans-serif' font-size="23.5" font-weight="bold" textLength="18.1" lengthAdjust="spacingAndGlyphs" fill="#111">A</text>
<rect x="2025.7" y="2936.1" width="209.3" height="26.3" fill="#f6f6f6" stroke="#8e8e8e" stroke-width="2"/><path d="M2026.7 2963.4H2236V2937.1" fill="none" stroke="#c9c9c9" stroke-width="1.6"/>
<text x="2041.5" y="2957.2" font-family='"DejaVu Sans", "Liberation Sans", sans-serif' font-size="23.5" font-weight="bold" textLength="44.2" lengthAdjust="spacingAndGlyphs" fill="#2d2b93">Ch1</text>
<path d="M2103.8 2955.2H2109.8L2115.8 2942.2H2122.8" fill="none" stroke="#111" stroke-width="3.2"/><path d="M2108.8 2951.2L2115.3 2944.2L2116.8 2952.2Z" fill="#111"/>
<text x="2234" y="2957.2" font-family='"DejaVu Sans", "Liberation Sans", sans-serif' font-size="23.5" font-weight="bold" text-anchor="end" textLength="77.4" lengthAdjust="spacingAndGlyphs" fill="#111">24.0mV</text>
<rect x="1875.6" y="2994.4" width="16.6" height="20" rx="1.5" fill="#f58220"/>
<rect x="1877.1" y="2995.9" width="13.6" height="4" fill="#fbb36b"/>
<rect x="1898.2" y="2991.4" width="113.1" height="25.5" fill="#fbfbfb" stroke="#7e7e7e" stroke-width="2"/><path d="M1899.2 3017.9H2012.3V2992.4" fill="none" stroke="#c9c9c9" stroke-width="1.6"/>
<text x="1902.8" y="3012.9" font-family='"DejaVu Sans", "Liberation Sans", sans-serif' font-size="23.5" font-weight="bold" textLength="93.5" lengthAdjust="spacingAndGlyphs" fill="#111">30.00 %</text></g>
</svg>
</main>
<footer><div class="fbar"></div>
<svg width="2550" height="260" viewBox="0 3040 2550 260">
<text x="176.5" y="3119.4" font-family='"Liberation Sans", sans-serif' font-size="45" font-weight="bold" textLength="626" lengthAdjust="spacingAndGlyphs" fill="none" stroke="#a9cdee" stroke-width="7" stroke-linejoin="round" opacity=".6">www.murata-ps.com/support</text>
<rect x="176" y="3124.2" width="627" height="3" fill="#0a3f7c"/>
<text x="176.5" y="3119.4" font-family='"Liberation Sans", sans-serif' font-size="45" font-weight="bold" textLength="626" lengthAdjust="spacingAndGlyphs" fill="#0a437f">www.murata-ps.com/support</text>
<text x="1963" y="3181.3" font-family='"Liberation Sans", sans-serif' font-size="32" font-weight="bold" textLength="248.5" lengthAdjust="spacingAndGlyphs" stroke="#1a1a1a" stroke-width="0.5" stroke-linejoin="round" fill="#1a1a1a">MDC_UEI25W.B09</text>
<text x="2400.5" y="3181.3" font-family='"Liberation Sans", sans-serif' font-size="32" text-anchor="end" textLength="173.5" lengthAdjust="spacingAndGlyphs" stroke="#1a1a1a" stroke-width="0.5" stroke-linejoin="round" fill="#1a1a1a">Page 14 of 24</text>
</svg></footer>
</body></html>
